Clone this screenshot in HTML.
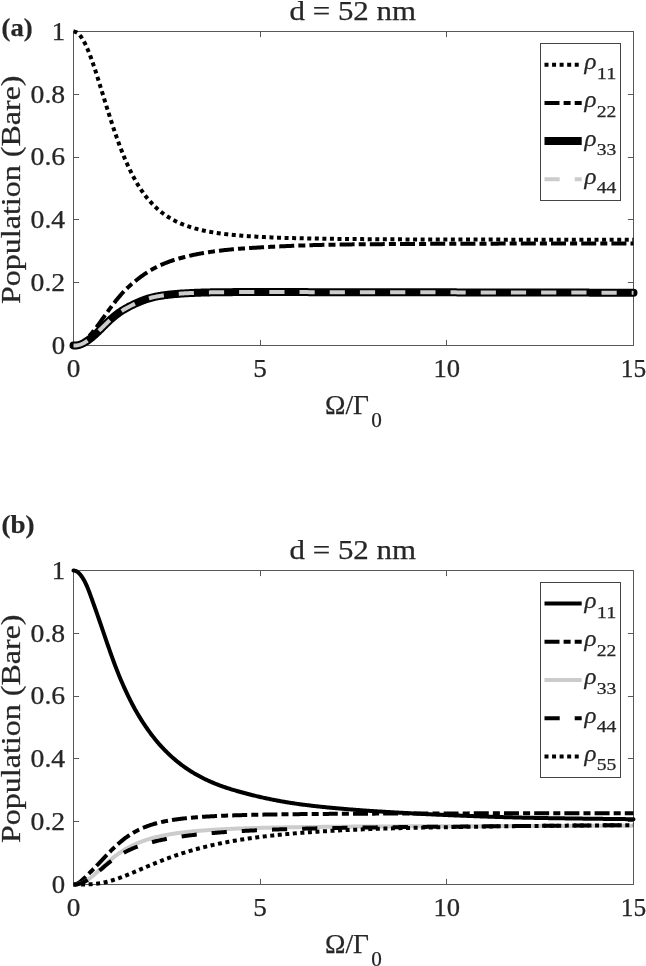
<!DOCTYPE html>
<html><head><meta charset="utf-8"><title>Population (Bare) vs Ω/Γ0</title>
<style>
html,body{margin:0;padding:0;background:#fff;}
svg{display:block;}
text{font-family:"Liberation Serif", serif;fill:#262626;stroke:#262626;stroke-width:0.25px;}
</style></head>
<body>
<svg width="646" height="966" viewBox="0 0 646 966">
<rect width="646" height="966" fill="#fff"/>
<rect x="73.5" y="31.5" width="560.0" height="314.0" fill="none" stroke="#585858" stroke-width="1"/>
<text x="73.50" y="377.20" font-size="24.2" text-anchor="middle" font-weight="normal" font-style="normal" textLength="13.60" lengthAdjust="spacingAndGlyphs" class="tk">0</text>
<path d="M260.5,345.5 v-5.6 M260.5,31.5 v5.6" stroke="#585858" stroke-width="1" fill="none"/>
<text x="260.17" y="377.20" font-size="24.2" text-anchor="middle" font-weight="normal" font-style="normal" textLength="13.60" lengthAdjust="spacingAndGlyphs" class="tk">5</text>
<path d="M446.5,345.5 v-5.6 M446.5,31.5 v5.6" stroke="#585858" stroke-width="1" fill="none"/>
<text x="446.83" y="377.20" font-size="24.2" text-anchor="middle" font-weight="normal" font-style="normal" textLength="26.60" lengthAdjust="spacingAndGlyphs" class="tk">10</text>
<text x="633.50" y="377.20" font-size="24.2" text-anchor="middle" font-weight="normal" font-style="normal" textLength="25.40" lengthAdjust="spacingAndGlyphs" class="tk">15</text>
<text x="65.20" y="353.70" font-size="24.2" text-anchor="end" font-weight="normal" font-style="normal" textLength="13.40" lengthAdjust="spacingAndGlyphs" class="tk">0</text>
<path d="M73.5,282.5 h5.6 M633.5,282.5 h-5.6" stroke="#585858" stroke-width="1" fill="none"/>
<text x="65.20" y="290.90" font-size="24.2" text-anchor="end" font-weight="normal" font-style="normal" textLength="34.60" lengthAdjust="spacingAndGlyphs" class="tk">0.2</text>
<path d="M73.5,219.5 h5.6 M633.5,219.5 h-5.6" stroke="#585858" stroke-width="1" fill="none"/>
<text x="65.20" y="228.10" font-size="24.2" text-anchor="end" font-weight="normal" font-style="normal" textLength="34.60" lengthAdjust="spacingAndGlyphs" class="tk">0.4</text>
<path d="M73.5,157.5 h5.6 M633.5,157.5 h-5.6" stroke="#585858" stroke-width="1" fill="none"/>
<text x="65.20" y="165.30" font-size="24.2" text-anchor="end" font-weight="normal" font-style="normal" textLength="34.60" lengthAdjust="spacingAndGlyphs" class="tk">0.6</text>
<path d="M73.5,94.5 h5.6 M633.5,94.5 h-5.6" stroke="#585858" stroke-width="1" fill="none"/>
<text x="65.20" y="102.50" font-size="24.2" text-anchor="end" font-weight="normal" font-style="normal" textLength="34.60" lengthAdjust="spacingAndGlyphs" class="tk">0.8</text>
<text x="65.20" y="39.70" font-size="24.2" text-anchor="end" font-weight="normal" font-style="normal" textLength="13.40" lengthAdjust="spacingAndGlyphs" class="tk">1</text>
<text x="352.80" y="19.70" font-size="27" text-anchor="middle" font-weight="normal" font-style="normal" textLength="126.50" lengthAdjust="spacingAndGlyphs">d = 52 nm</text>
<text x="1.60" y="35.50" font-size="26" text-anchor="start" font-weight="bold" font-style="normal" textLength="31.00" lengthAdjust="spacingAndGlyphs">(a)</text>
<text x="325.00" y="414.10" font-size="27.5" text-anchor="start" font-weight="normal" font-style="normal" textLength="44.00" lengthAdjust="spacingAndGlyphs">Ω/Γ</text>
<text x="371.20" y="427.10" font-size="20.5" text-anchor="start" font-weight="normal" font-style="normal" textLength="10.60" lengthAdjust="spacingAndGlyphs">0</text>
<g transform="translate(19.9,189.70) rotate(-90)"><text x="0.00" y="0.00" font-size="27" text-anchor="middle" font-weight="normal" font-style="normal" textLength="228.50" lengthAdjust="spacingAndGlyphs">Population (Bare)</text></g>
<path d="M73.50,31.50 L74.43,31.58 L75.37,31.83 L76.30,32.25 L77.23,32.82 L78.17,33.56 L79.10,34.46 L80.03,35.51 L80.97,36.72 L81.90,38.07 L82.83,39.57 L83.77,41.20 L84.70,42.97 L85.63,44.87 L86.57,46.88 L87.50,49.01 L88.43,51.25 L89.37,53.59 L90.30,56.02 L91.23,58.54 L92.17,61.15 L93.10,63.82 L94.03,66.56 L94.97,69.36 L95.90,72.22 L96.83,75.12 L97.77,78.05 L98.70,81.03 L99.63,84.02 L100.57,87.04 L101.50,90.07 L102.43,93.11 L103.37,96.15 L104.30,99.19 L105.23,102.23 L106.17,105.25 L107.10,108.25 L108.03,111.24 L108.97,114.21 L109.90,117.14 L110.83,120.05 L111.77,122.92 L112.70,125.76 L113.63,128.56 L114.57,131.32 L115.50,134.04 L116.43,136.71 L117.37,139.34 L118.30,141.92 L119.23,144.46 L120.17,146.94 L121.10,149.38 L122.03,151.76 L122.97,154.10 L123.90,156.39 L124.83,158.62 L125.77,160.80 L126.70,162.94 L127.63,165.02 L128.57,167.05 L129.50,169.03 L130.43,170.96 L131.37,172.85 L132.30,174.68 L133.23,176.47 L134.17,178.21 L135.10,179.91 L136.03,181.56 L136.97,183.16 L137.90,184.72 L138.83,186.24 L139.77,187.71 L140.70,189.15 L141.63,190.54 L142.57,191.90 L143.50,193.21 L144.43,194.49 L145.37,195.73 L146.30,196.94 L147.23,198.11 L148.17,199.24 L149.10,200.35 L150.03,201.42 L150.97,202.46 L151.90,203.47 L152.83,204.45 L153.77,205.40 L154.70,206.32 L155.63,207.22 L156.57,208.09 L157.50,208.93 L158.43,209.75 L159.37,210.55 L160.30,211.32 L161.23,212.06 L162.17,212.79 L163.10,213.50 L164.03,214.18 L164.97,214.84 L165.90,215.49 L166.83,216.11 L167.77,216.72 L168.70,217.31 L169.63,217.88 L170.57,218.44 L171.50,218.97 L172.43,219.50 L173.37,220.01 L174.30,220.50 L175.23,220.98 L176.17,221.44 L177.10,221.90 L178.03,222.33 L178.97,222.76 L179.90,223.17 L180.83,223.58 L181.77,223.97 L182.70,224.35 L183.63,224.72 L184.57,225.07 L185.50,225.42 L186.43,225.76 L187.37,226.09 L188.30,226.41 L189.23,226.72 L190.17,227.02 L191.10,227.32 L192.03,227.60 L192.97,227.88 L193.90,228.15 L194.83,228.42 L195.77,228.67 L196.70,228.92 L197.63,229.16 L198.57,229.40 L199.50,229.63 L200.43,229.85 L201.37,230.07 L202.30,230.28 L203.23,230.49 L204.17,230.69 L205.10,230.89 L206.03,231.08 L206.97,231.26 L207.90,231.44 L208.83,231.62 L209.77,231.79 L210.70,231.96 L211.63,232.12 L212.57,232.28 L213.50,232.43 L214.43,232.58 L215.37,232.73 L216.30,232.87 L217.23,233.01 L218.17,233.15 L219.10,233.28 L220.03,233.41 L220.97,233.54 L221.90,233.66 L222.83,233.78 L223.77,233.90 L224.70,234.02 L225.63,234.13 L226.57,234.24 L227.50,234.34 L228.43,234.45 L229.37,234.55 L230.30,234.65 L231.23,234.75 L232.17,234.84 L233.10,234.93 L234.03,235.02 L234.97,235.11 L235.90,235.20 L236.83,235.28 L237.77,235.36 L238.70,235.44 L239.63,235.52 L240.57,235.60 L241.50,235.67 L242.43,235.75 L243.37,235.82 L244.30,235.89 L245.23,235.96 L246.17,236.03 L247.10,236.09 L248.03,236.16 L248.97,236.22 L249.90,236.28 L250.83,236.34 L251.77,236.40 L252.70,236.46 L253.63,236.51 L254.57,236.57 L255.50,236.62 L256.43,236.68 L257.37,236.73 L258.30,236.78 L259.23,236.83 L260.17,236.88 L261.10,236.92 L262.03,236.97 L262.97,237.02 L263.90,237.06 L264.83,237.10 L265.77,237.15 L266.70,237.19 L267.63,237.23 L268.57,237.27 L269.50,237.31 L270.43,237.35 L271.37,237.39 L272.30,237.42 L273.23,237.46 L274.17,237.50 L275.10,237.53 L276.03,237.57 L276.97,237.60 L277.90,237.63 L278.83,237.67 L279.77,237.70 L280.70,237.73 L281.63,237.76 L282.57,237.79 L283.50,237.82 L284.43,237.85 L285.37,237.88 L286.30,237.91 L287.23,237.93 L288.17,237.96 L289.10,237.99 L290.03,238.01 L290.97,238.04 L291.90,238.06 L292.83,238.09 L293.77,238.11 L294.70,238.13 L295.63,238.16 L296.57,238.18 L297.50,238.20 L298.43,238.23 L299.37,238.25 L300.30,238.27 L301.23,238.29 L302.17,238.31 L303.10,238.33 L304.03,238.35 L304.97,238.37 L305.90,238.39 L306.83,238.41 L307.77,238.43 L308.70,238.44 L309.63,238.46 L310.57,238.48 L311.50,238.50 L312.43,238.51 L313.37,238.53 L314.30,238.55 L315.23,238.56 L316.17,238.58 L317.10,238.59 L318.03,238.61 L318.97,238.62 L319.90,238.64 L320.83,238.65 L321.77,238.67 L322.70,238.68 L323.63,238.70 L324.57,238.71 L325.50,238.72 L326.43,238.74 L327.37,238.75 L328.30,238.76 L329.23,238.78 L330.17,238.79 L331.10,238.80 L332.03,238.81 L332.97,238.82 L333.90,238.84 L334.83,238.85 L335.77,238.86 L336.70,238.87 L337.63,238.88 L338.57,238.89 L339.50,238.90 L340.43,238.91 L341.37,238.92 L342.30,238.93 L343.23,238.94 L344.17,238.95 L345.10,238.96 L346.03,238.97 L346.97,238.98 L347.90,238.99 L348.83,239.00 L349.77,239.01 L350.70,239.02 L351.63,239.03 L352.57,239.04 L353.50,239.04 L354.43,239.05 L355.37,239.06 L356.30,239.07 L357.23,239.08 L358.17,239.09 L359.10,239.09 L360.03,239.10 L360.97,239.11 L361.90,239.12 L362.83,239.12 L363.77,239.13 L364.70,239.14 L365.63,239.15 L366.57,239.15 L367.50,239.16 L368.43,239.17 L369.37,239.17 L370.30,239.18 L371.23,239.19 L372.17,239.19 L373.10,239.20 L374.03,239.20 L374.97,239.21 L375.90,239.22 L376.83,239.22 L377.77,239.23 L378.70,239.24 L379.63,239.24 L380.57,239.25 L381.50,239.25 L382.43,239.26 L383.37,239.26 L384.30,239.27 L385.23,239.27 L386.17,239.28 L387.10,239.28 L388.03,239.29 L388.97,239.29 L389.90,239.30 L390.83,239.30 L391.77,239.31 L392.70,239.31 L393.63,239.32 L394.57,239.32 L395.50,239.33 L396.43,239.33 L397.37,239.34 L398.30,239.34 L399.23,239.35 L400.17,239.35 L401.10,239.36 L402.03,239.36 L402.97,239.36 L403.90,239.37 L404.83,239.37 L405.77,239.38 L406.70,239.38 L407.63,239.38 L408.57,239.39 L409.50,239.39 L410.43,239.40 L411.37,239.40 L412.30,239.40 L413.23,239.41 L414.17,239.41 L415.10,239.41 L416.03,239.42 L416.97,239.42 L417.90,239.43 L418.83,239.43 L419.77,239.43 L420.70,239.44 L421.63,239.44 L422.57,239.44 L423.50,239.45 L424.43,239.45 L425.37,239.45 L426.30,239.45 L427.23,239.46 L428.17,239.46 L429.10,239.46 L430.03,239.47 L430.97,239.47 L431.90,239.47 L432.83,239.48 L433.77,239.48 L434.70,239.48 L435.63,239.48 L436.57,239.49 L437.50,239.49 L438.43,239.49 L439.37,239.50 L440.30,239.50 L441.23,239.50 L442.17,239.50 L443.10,239.51 L444.03,239.51 L444.97,239.51 L445.90,239.51 L446.83,239.52 L447.77,239.52 L448.70,239.52 L449.63,239.52 L450.57,239.53 L451.50,239.53 L452.43,239.53 L453.37,239.53 L454.30,239.53 L455.23,239.54 L456.17,239.54 L457.10,239.54 L458.03,239.54 L458.97,239.55 L459.90,239.55 L460.83,239.55 L461.77,239.55 L462.70,239.55 L463.63,239.56 L464.57,239.56 L465.50,239.56 L466.43,239.56 L467.37,239.56 L468.30,239.57 L469.23,239.57 L470.17,239.57 L471.10,239.57 L472.03,239.57 L472.97,239.58 L473.90,239.58 L474.83,239.58 L475.77,239.58 L476.70,239.58 L477.63,239.58 L478.57,239.59 L479.50,239.59 L480.43,239.59 L481.37,239.59 L482.30,239.59 L483.23,239.59 L484.17,239.60 L485.10,239.60 L486.03,239.60 L486.97,239.60 L487.90,239.60 L488.83,239.60 L489.77,239.61 L490.70,239.61 L491.63,239.61 L492.57,239.61 L493.50,239.61 L494.43,239.61 L495.37,239.61 L496.30,239.62 L497.23,239.62 L498.17,239.62 L499.10,239.62 L500.03,239.62 L500.97,239.62 L501.90,239.62 L502.83,239.63 L503.77,239.63 L504.70,239.63 L505.63,239.63 L506.57,239.63 L507.50,239.63 L508.43,239.63 L509.37,239.64 L510.30,239.64 L511.23,239.64 L512.17,239.64 L513.10,239.64 L514.03,239.64 L514.97,239.64 L515.90,239.64 L516.83,239.65 L517.77,239.65 L518.70,239.65 L519.63,239.65 L520.57,239.65 L521.50,239.65 L522.43,239.65 L523.37,239.65 L524.30,239.65 L525.23,239.66 L526.17,239.66 L527.10,239.66 L528.03,239.66 L528.97,239.66 L529.90,239.66 L530.83,239.66 L531.77,239.66 L532.70,239.66 L533.63,239.67 L534.57,239.67 L535.50,239.67 L536.43,239.67 L537.37,239.67 L538.30,239.67 L539.23,239.67 L540.17,239.67 L541.10,239.67 L542.03,239.67 L542.97,239.67 L543.90,239.68 L544.83,239.68 L545.77,239.68 L546.70,239.68 L547.63,239.68 L548.57,239.68 L549.50,239.68 L550.43,239.68 L551.37,239.68 L552.30,239.68 L553.23,239.68 L554.17,239.69 L555.10,239.69 L556.03,239.69 L556.97,239.69 L557.90,239.69 L558.83,239.69 L559.77,239.69 L560.70,239.69 L561.63,239.69 L562.57,239.69 L563.50,239.69 L564.43,239.69 L565.37,239.70 L566.30,239.70 L567.23,239.70 L568.17,239.70 L569.10,239.70 L570.03,239.70 L570.97,239.70 L571.90,239.70 L572.83,239.70 L573.77,239.70 L574.70,239.70 L575.63,239.70 L576.57,239.70 L577.50,239.70 L578.43,239.71 L579.37,239.71 L580.30,239.71 L581.23,239.71 L582.17,239.71 L583.10,239.71 L584.03,239.71 L584.97,239.71 L585.90,239.71 L586.83,239.71 L587.77,239.71 L588.70,239.71 L589.63,239.71 L590.57,239.71 L591.50,239.71 L592.43,239.72 L593.37,239.72 L594.30,239.72 L595.23,239.72 L596.17,239.72 L597.10,239.72 L598.03,239.72 L598.97,239.72 L599.90,239.72 L600.83,239.72 L601.77,239.72 L602.70,239.72 L603.63,239.72 L604.57,239.72 L605.50,239.72 L606.43,239.72 L607.37,239.72 L608.30,239.73 L609.23,239.73 L610.17,239.73 L611.10,239.73 L612.03,239.73 L612.97,239.73 L613.90,239.73 L614.83,239.73 L615.77,239.73 L616.70,239.73 L617.63,239.73 L618.57,239.73 L619.50,239.73 L620.43,239.73 L621.37,239.73 L622.30,239.73 L623.23,239.73 L624.17,239.73 L625.10,239.73 L626.03,239.74 L626.97,239.74 L627.90,239.74 L628.83,239.74 L629.77,239.74 L630.70,239.74 L631.63,239.74 L632.57,239.74 L633.50,239.74" fill="none" stroke="#000" stroke-width="4.0" stroke-linejoin="round" stroke-linecap="butt" stroke-dasharray="4 3.56"/>
<path d="M73.50,345.50 L74.43,345.46 L75.37,345.36 L76.30,345.18 L77.23,344.92 L78.17,344.60 L79.10,344.21 L80.03,343.75 L80.97,343.23 L81.90,342.64 L82.83,341.99 L83.77,341.28 L84.70,340.52 L85.63,339.70 L86.57,338.83 L87.50,337.91 L88.43,336.94 L89.37,335.93 L90.30,334.88 L91.23,333.79 L92.17,332.67 L93.10,331.52 L94.03,330.34 L94.97,329.14 L95.90,327.92 L96.83,326.67 L97.77,325.41 L98.70,324.14 L99.63,322.85 L100.57,321.56 L101.50,320.26 L102.43,318.95 L103.37,317.65 L104.30,316.34 L105.23,315.04 L106.17,313.74 L107.10,312.44 L108.03,311.15 L108.97,309.87 L109.90,308.60 L110.83,307.35 L111.77,306.10 L112.70,304.87 L113.63,303.65 L114.57,302.44 L115.50,301.25 L116.43,300.08 L117.37,298.92 L118.30,297.78 L119.23,296.66 L120.17,295.57 L121.10,294.51 L122.03,293.47 L122.97,292.46 L123.90,291.47 L124.83,290.51 L125.77,289.57 L126.70,288.65 L127.63,287.76 L128.57,286.88 L129.50,286.02 L130.43,285.18 L131.37,284.36 L132.30,283.56 L133.23,282.77 L134.17,281.99 L135.10,281.23 L136.03,280.48 L136.97,279.73 L137.90,279.00 L138.83,278.28 L139.77,277.57 L140.70,276.87 L141.63,276.18 L142.57,275.51 L143.50,274.86 L144.43,274.22 L145.37,273.59 L146.30,272.98 L147.23,272.38 L148.17,271.79 L149.10,271.22 L150.03,270.66 L150.97,270.11 L151.90,269.58 L152.83,269.06 L153.77,268.55 L154.70,268.05 L155.63,267.56 L156.57,267.09 L157.50,266.62 L158.43,266.17 L159.37,265.72 L160.30,265.29 L161.23,264.87 L162.17,264.45 L163.10,264.05 L164.03,263.66 L164.97,263.27 L165.90,262.90 L166.83,262.53 L167.77,262.17 L168.70,261.83 L169.63,261.49 L170.57,261.16 L171.50,260.83 L172.43,260.52 L173.37,260.21 L174.30,259.91 L175.23,259.62 L176.17,259.33 L177.10,259.05 L178.03,258.78 L178.97,258.51 L179.90,258.24 L180.83,257.99 L181.77,257.73 L182.70,257.48 L183.63,257.24 L184.57,257.00 L185.50,256.76 L186.43,256.53 L187.37,256.30 L188.30,256.07 L189.23,255.86 L190.17,255.64 L191.10,255.43 L192.03,255.22 L192.97,255.02 L193.90,254.83 L194.83,254.63 L195.77,254.44 L196.70,254.26 L197.63,254.08 L198.57,253.90 L199.50,253.72 L200.43,253.55 L201.37,253.38 L202.30,253.22 L203.23,253.06 L204.17,252.90 L205.10,252.75 L206.03,252.59 L206.97,252.44 L207.90,252.30 L208.83,252.16 L209.77,252.02 L210.70,251.88 L211.63,251.74 L212.57,251.61 L213.50,251.48 L214.43,251.35 L215.37,251.23 L216.30,251.11 L217.23,250.99 L218.17,250.87 L219.10,250.75 L220.03,250.64 L220.97,250.53 L221.90,250.42 L222.83,250.31 L223.77,250.21 L224.70,250.10 L225.63,250.00 L226.57,249.90 L227.50,249.81 L228.43,249.71 L229.37,249.62 L230.30,249.53 L231.23,249.44 L232.17,249.36 L233.10,249.27 L234.03,249.19 L234.97,249.11 L235.90,249.03 L236.83,248.96 L237.77,248.88 L238.70,248.81 L239.63,248.74 L240.57,248.67 L241.50,248.60 L242.43,248.53 L243.37,248.47 L244.30,248.40 L245.23,248.34 L246.17,248.27 L247.10,248.21 L248.03,248.15 L248.97,248.09 L249.90,248.03 L250.83,247.97 L251.77,247.91 L252.70,247.85 L253.63,247.80 L254.57,247.74 L255.50,247.68 L256.43,247.63 L257.37,247.57 L258.30,247.51 L259.23,247.46 L260.17,247.40 L261.10,247.35 L262.03,247.29 L262.97,247.24 L263.90,247.19 L264.83,247.14 L265.77,247.09 L266.70,247.03 L267.63,246.98 L268.57,246.93 L269.50,246.88 L270.43,246.84 L271.37,246.79 L272.30,246.74 L273.23,246.69 L274.17,246.65 L275.10,246.60 L276.03,246.56 L276.97,246.51 L277.90,246.47 L278.83,246.42 L279.77,246.38 L280.70,246.34 L281.63,246.30 L282.57,246.25 L283.50,246.21 L284.43,246.17 L285.37,246.13 L286.30,246.09 L287.23,246.06 L288.17,246.02 L289.10,245.98 L290.03,245.94 L290.97,245.91 L291.90,245.87 L292.83,245.83 L293.77,245.80 L294.70,245.76 L295.63,245.72 L296.57,245.69 L297.50,245.65 L298.43,245.62 L299.37,245.58 L300.30,245.55 L301.23,245.52 L302.17,245.48 L303.10,245.45 L304.03,245.42 L304.97,245.38 L305.90,245.35 L306.83,245.32 L307.77,245.29 L308.70,245.26 L309.63,245.23 L310.57,245.20 L311.50,245.17 L312.43,245.14 L313.37,245.12 L314.30,245.09 L315.23,245.06 L316.17,245.04 L317.10,245.01 L318.03,244.99 L318.97,244.96 L319.90,244.94 L320.83,244.91 L321.77,244.89 L322.70,244.87 L323.63,244.85 L324.57,244.83 L325.50,244.81 L326.43,244.79 L327.37,244.77 L328.30,244.75 L329.23,244.73 L330.17,244.71 L331.10,244.69 L332.03,244.68 L332.97,244.66 L333.90,244.64 L334.83,244.63 L335.77,244.61 L336.70,244.59 L337.63,244.58 L338.57,244.56 L339.50,244.55 L340.43,244.54 L341.37,244.52 L342.30,244.51 L343.23,244.49 L344.17,244.48 L345.10,244.47 L346.03,244.46 L346.97,244.44 L347.90,244.43 L348.83,244.42 L349.77,244.41 L350.70,244.40 L351.63,244.38 L352.57,244.37 L353.50,244.36 L354.43,244.35 L355.37,244.34 L356.30,244.33 L357.23,244.32 L358.17,244.31 L359.10,244.30 L360.03,244.30 L360.97,244.29 L361.90,244.28 L362.83,244.27 L363.77,244.26 L364.70,244.25 L365.63,244.25 L366.57,244.24 L367.50,244.23 L368.43,244.22 L369.37,244.22 L370.30,244.21 L371.23,244.20 L372.17,244.19 L373.10,244.19 L374.03,244.18 L374.97,244.17 L375.90,244.17 L376.83,244.16 L377.77,244.16 L378.70,244.15 L379.63,244.14 L380.57,244.14 L381.50,244.13 L382.43,244.13 L383.37,244.12 L384.30,244.12 L385.23,244.11 L386.17,244.11 L387.10,244.10 L388.03,244.10 L388.97,244.09 L389.90,244.09 L390.83,244.08 L391.77,244.08 L392.70,244.07 L393.63,244.07 L394.57,244.06 L395.50,244.06 L396.43,244.05 L397.37,244.05 L398.30,244.04 L399.23,244.04 L400.17,244.03 L401.10,244.03 L402.03,244.02 L402.97,244.02 L403.90,244.01 L404.83,244.01 L405.77,244.01 L406.70,244.00 L407.63,244.00 L408.57,243.99 L409.50,243.99 L410.43,243.98 L411.37,243.98 L412.30,243.97 L413.23,243.97 L414.17,243.96 L415.10,243.96 L416.03,243.95 L416.97,243.95 L417.90,243.94 L418.83,243.94 L419.77,243.93 L420.70,243.93 L421.63,243.92 L422.57,243.91 L423.50,243.91 L424.43,243.90 L425.37,243.90 L426.30,243.89 L427.23,243.89 L428.17,243.88 L429.10,243.88 L430.03,243.87 L430.97,243.87 L431.90,243.86 L432.83,243.86 L433.77,243.86 L434.70,243.85 L435.63,243.85 L436.57,243.84 L437.50,243.84 L438.43,243.83 L439.37,243.83 L440.30,243.82 L441.23,243.82 L442.17,243.82 L443.10,243.81 L444.03,243.81 L444.97,243.80 L445.90,243.80 L446.83,243.80 L447.77,243.79 L448.70,243.79 L449.63,243.78 L450.57,243.78 L451.50,243.78 L452.43,243.77 L453.37,243.77 L454.30,243.76 L455.23,243.76 L456.17,243.76 L457.10,243.75 L458.03,243.75 L458.97,243.75 L459.90,243.74 L460.83,243.74 L461.77,243.74 L462.70,243.73 L463.63,243.73 L464.57,243.73 L465.50,243.72 L466.43,243.72 L467.37,243.72 L468.30,243.71 L469.23,243.71 L470.17,243.71 L471.10,243.70 L472.03,243.70 L472.97,243.70 L473.90,243.69 L474.83,243.69 L475.77,243.69 L476.70,243.69 L477.63,243.68 L478.57,243.68 L479.50,243.68 L480.43,243.67 L481.37,243.67 L482.30,243.67 L483.23,243.67 L484.17,243.66 L485.10,243.66 L486.03,243.66 L486.97,243.66 L487.90,243.65 L488.83,243.65 L489.77,243.65 L490.70,243.64 L491.63,243.64 L492.57,243.64 L493.50,243.64 L494.43,243.63 L495.37,243.63 L496.30,243.63 L497.23,243.63 L498.17,243.63 L499.10,243.62 L500.03,243.62 L500.97,243.62 L501.90,243.62 L502.83,243.61 L503.77,243.61 L504.70,243.61 L505.63,243.61 L506.57,243.60 L507.50,243.60 L508.43,243.60 L509.37,243.60 L510.30,243.60 L511.23,243.59 L512.17,243.59 L513.10,243.59 L514.03,243.59 L514.97,243.59 L515.90,243.58 L516.83,243.58 L517.77,243.58 L518.70,243.58 L519.63,243.58 L520.57,243.57 L521.50,243.57 L522.43,243.57 L523.37,243.57 L524.30,243.57 L525.23,243.56 L526.17,243.56 L527.10,243.56 L528.03,243.56 L528.97,243.56 L529.90,243.55 L530.83,243.55 L531.77,243.55 L532.70,243.55 L533.63,243.55 L534.57,243.55 L535.50,243.54 L536.43,243.54 L537.37,243.54 L538.30,243.54 L539.23,243.54 L540.17,243.54 L541.10,243.53 L542.03,243.53 L542.97,243.53 L543.90,243.53 L544.83,243.53 L545.77,243.53 L546.70,243.52 L547.63,243.52 L548.57,243.52 L549.50,243.52 L550.43,243.52 L551.37,243.52 L552.30,243.51 L553.23,243.51 L554.17,243.51 L555.10,243.51 L556.03,243.51 L556.97,243.51 L557.90,243.50 L558.83,243.50 L559.77,243.50 L560.70,243.50 L561.63,243.50 L562.57,243.50 L563.50,243.49 L564.43,243.49 L565.37,243.49 L566.30,243.49 L567.23,243.49 L568.17,243.49 L569.10,243.49 L570.03,243.48 L570.97,243.48 L571.90,243.48 L572.83,243.48 L573.77,243.48 L574.70,243.48 L575.63,243.47 L576.57,243.47 L577.50,243.47 L578.43,243.47 L579.37,243.47 L580.30,243.47 L581.23,243.47 L582.17,243.46 L583.10,243.46 L584.03,243.46 L584.97,243.46 L585.90,243.46 L586.83,243.46 L587.77,243.46 L588.70,243.45 L589.63,243.45 L590.57,243.45 L591.50,243.45 L592.43,243.45 L593.37,243.45 L594.30,243.45 L595.23,243.44 L596.17,243.44 L597.10,243.44 L598.03,243.44 L598.97,243.44 L599.90,243.44 L600.83,243.43 L601.77,243.43 L602.70,243.43 L603.63,243.43 L604.57,243.43 L605.50,243.43 L606.43,243.43 L607.37,243.42 L608.30,243.42 L609.23,243.42 L610.17,243.42 L611.10,243.42 L612.03,243.42 L612.97,243.42 L613.90,243.41 L614.83,243.41 L615.77,243.41 L616.70,243.41 L617.63,243.41 L618.57,243.41 L619.50,243.40 L620.43,243.40 L621.37,243.40 L622.30,243.40 L623.23,243.40 L624.17,243.40 L625.10,243.40 L626.03,243.39 L626.97,243.39 L627.90,243.39 L628.83,243.39 L629.77,243.39 L630.70,243.39 L631.63,243.38 L632.57,243.38 L633.50,243.38" fill="none" stroke="#000" stroke-width="4.0" stroke-linejoin="round" stroke-linecap="butt" stroke-dasharray="15 4.1 7 4.1"/>
<path d="M73.50,345.50 L74.43,345.53 L75.37,345.51 L76.30,345.44 L77.23,345.31 L78.17,345.12 L79.10,344.89 L80.03,344.60 L80.97,344.26 L81.90,343.88 L82.83,343.45 L83.77,342.97 L84.70,342.45 L85.63,341.88 L86.57,341.28 L87.50,340.64 L88.43,339.98 L89.37,339.29 L90.30,338.58 L91.23,337.85 L92.17,337.09 L93.10,336.30 L94.03,335.50 L94.97,334.67 L95.90,333.81 L96.83,332.93 L97.77,332.03 L98.70,331.12 L99.63,330.19 L100.57,329.27 L101.50,328.33 L102.43,327.40 L103.37,326.47 L104.30,325.55 L105.23,324.63 L106.17,323.72 L107.10,322.81 L108.03,321.92 L108.97,321.05 L109.90,320.18 L110.83,319.34 L111.77,318.52 L112.70,317.71 L113.63,316.92 L114.57,316.15 L115.50,315.40 L116.43,314.67 L117.37,313.96 L118.30,313.26 L119.23,312.59 L120.17,311.94 L121.10,311.31 L122.03,310.69 L122.97,310.10 L123.90,309.52 L124.83,308.96 L125.77,308.42 L126.70,307.90 L127.63,307.39 L128.57,306.90 L129.50,306.43 L130.43,305.96 L131.37,305.50 L132.30,305.05 L133.23,304.61 L134.17,304.17 L135.10,303.74 L136.03,303.31 L136.97,302.90 L137.90,302.49 L138.83,302.09 L139.77,301.70 L140.70,301.31 L141.63,300.94 L142.57,300.58 L143.50,300.22 L144.43,299.88 L145.37,299.55 L146.30,299.22 L147.23,298.91 L148.17,298.61 L149.10,298.33 L150.03,298.05 L150.97,297.79 L151.90,297.54 L152.83,297.31 L153.77,297.08 L154.70,296.88 L155.63,296.69 L156.57,296.51 L157.50,296.33 L158.43,296.17 L159.37,296.00 L160.30,295.85 L161.23,295.70 L162.17,295.56 L163.10,295.42 L164.03,295.29 L164.97,295.16 L165.90,295.04 L166.83,294.92 L167.77,294.81 L168.70,294.70 L169.63,294.60 L170.57,294.49 L171.50,294.40 L172.43,294.30 L173.37,294.22 L174.30,294.13 L175.23,294.05 L176.17,293.97 L177.10,293.89 L178.03,293.82 L178.97,293.75 L179.90,293.68 L180.83,293.61 L181.77,293.55 L182.70,293.49 L183.63,293.43 L184.57,293.37 L185.50,293.32 L186.43,293.27 L187.37,293.22 L188.30,293.17 L189.23,293.12 L190.17,293.07 L191.10,293.03 L192.03,292.99 L192.97,292.94 L193.90,292.90 L194.83,292.86 L195.77,292.82 L196.70,292.79 L197.63,292.75 L198.57,292.72 L199.50,292.68 L200.43,292.65 L201.37,292.62 L202.30,292.59 L203.23,292.56 L204.17,292.53 L205.10,292.50 L206.03,292.47 L206.97,292.45 L207.90,292.42 L208.83,292.40 L209.77,292.38 L210.70,292.36 L211.63,292.34 L212.57,292.32 L213.50,292.30 L214.43,292.28 L215.37,292.27 L216.30,292.25 L217.23,292.24 L218.17,292.23 L219.10,292.21 L220.03,292.20 L220.97,292.19 L221.90,292.19 L222.83,292.18 L223.77,292.17 L224.70,292.17 L225.63,292.16 L226.57,292.15 L227.50,292.15 L228.43,292.14 L229.37,292.14 L230.30,292.13 L231.23,292.13 L232.17,292.13 L233.10,292.12 L234.03,292.12 L234.97,292.11 L235.90,292.11 L236.83,292.11 L237.77,292.10 L238.70,292.10 L239.63,292.10 L240.57,292.10 L241.50,292.09 L242.43,292.09 L243.37,292.09 L244.30,292.09 L245.23,292.09 L246.17,292.09 L247.10,292.08 L248.03,292.08 L248.97,292.08 L249.90,292.08 L250.83,292.08 L251.77,292.08 L252.70,292.08 L253.63,292.08 L254.57,292.08 L255.50,292.08 L256.43,292.08 L257.37,292.07 L258.30,292.07 L259.23,292.07 L260.17,292.07 L261.10,292.07 L262.03,292.07 L262.97,292.07 L263.90,292.07 L264.83,292.07 L265.77,292.07 L266.70,292.08 L267.63,292.08 L268.57,292.08 L269.50,292.08 L270.43,292.08 L271.37,292.08 L272.30,292.08 L273.23,292.08 L274.17,292.08 L275.10,292.08 L276.03,292.08 L276.97,292.08 L277.90,292.08 L278.83,292.08 L279.77,292.08 L280.70,292.09 L281.63,292.09 L282.57,292.09 L283.50,292.09 L284.43,292.09 L285.37,292.09 L286.30,292.09 L287.23,292.09 L288.17,292.09 L289.10,292.10 L290.03,292.10 L290.97,292.10 L291.90,292.10 L292.83,292.10 L293.77,292.10 L294.70,292.10 L295.63,292.11 L296.57,292.11 L297.50,292.11 L298.43,292.11 L299.37,292.11 L300.30,292.11 L301.23,292.11 L302.17,292.12 L303.10,292.12 L304.03,292.12 L304.97,292.12 L305.90,292.12 L306.83,292.12 L307.77,292.12 L308.70,292.13 L309.63,292.13 L310.57,292.13 L311.50,292.13 L312.43,292.13 L313.37,292.13 L314.30,292.14 L315.23,292.14 L316.17,292.14 L317.10,292.14 L318.03,292.14 L318.97,292.14 L319.90,292.15 L320.83,292.15 L321.77,292.15 L322.70,292.15 L323.63,292.15 L324.57,292.15 L325.50,292.15 L326.43,292.16 L327.37,292.16 L328.30,292.16 L329.23,292.16 L330.17,292.16 L331.10,292.16 L332.03,292.17 L332.97,292.17 L333.90,292.17 L334.83,292.17 L335.77,292.17 L336.70,292.17 L337.63,292.18 L338.57,292.18 L339.50,292.18 L340.43,292.18 L341.37,292.18 L342.30,292.18 L343.23,292.19 L344.17,292.19 L345.10,292.19 L346.03,292.19 L346.97,292.19 L347.90,292.19 L348.83,292.20 L349.77,292.20 L350.70,292.20 L351.63,292.20 L352.57,292.20 L353.50,292.20 L354.43,292.21 L355.37,292.21 L356.30,292.21 L357.23,292.21 L358.17,292.21 L359.10,292.21 L360.03,292.22 L360.97,292.22 L361.90,292.22 L362.83,292.22 L363.77,292.22 L364.70,292.22 L365.63,292.23 L366.57,292.23 L367.50,292.23 L368.43,292.23 L369.37,292.23 L370.30,292.23 L371.23,292.24 L372.17,292.24 L373.10,292.24 L374.03,292.24 L374.97,292.24 L375.90,292.24 L376.83,292.25 L377.77,292.25 L378.70,292.25 L379.63,292.25 L380.57,292.25 L381.50,292.25 L382.43,292.26 L383.37,292.26 L384.30,292.26 L385.23,292.26 L386.17,292.26 L387.10,292.26 L388.03,292.26 L388.97,292.27 L389.90,292.27 L390.83,292.27 L391.77,292.27 L392.70,292.27 L393.63,292.27 L394.57,292.28 L395.50,292.28 L396.43,292.28 L397.37,292.28 L398.30,292.28 L399.23,292.28 L400.17,292.28 L401.10,292.29 L402.03,292.29 L402.97,292.29 L403.90,292.29 L404.83,292.29 L405.77,292.29 L406.70,292.29 L407.63,292.30 L408.57,292.30 L409.50,292.30 L410.43,292.30 L411.37,292.30 L412.30,292.30 L413.23,292.30 L414.17,292.31 L415.10,292.31 L416.03,292.31 L416.97,292.31 L417.90,292.31 L418.83,292.31 L419.77,292.32 L420.70,292.32 L421.63,292.32 L422.57,292.32 L423.50,292.32 L424.43,292.32 L425.37,292.32 L426.30,292.33 L427.23,292.33 L428.17,292.33 L429.10,292.33 L430.03,292.33 L430.97,292.33 L431.90,292.33 L432.83,292.34 L433.77,292.34 L434.70,292.34 L435.63,292.34 L436.57,292.34 L437.50,292.34 L438.43,292.35 L439.37,292.35 L440.30,292.35 L441.23,292.35 L442.17,292.35 L443.10,292.35 L444.03,292.35 L444.97,292.36 L445.90,292.36 L446.83,292.36 L447.77,292.36 L448.70,292.36 L449.63,292.36 L450.57,292.37 L451.50,292.37 L452.43,292.37 L453.37,292.37 L454.30,292.37 L455.23,292.37 L456.17,292.37 L457.10,292.38 L458.03,292.38 L458.97,292.38 L459.90,292.38 L460.83,292.38 L461.77,292.38 L462.70,292.39 L463.63,292.39 L464.57,292.39 L465.50,292.39 L466.43,292.39 L467.37,292.39 L468.30,292.40 L469.23,292.40 L470.17,292.40 L471.10,292.40 L472.03,292.40 L472.97,292.40 L473.90,292.41 L474.83,292.41 L475.77,292.41 L476.70,292.41 L477.63,292.41 L478.57,292.41 L479.50,292.42 L480.43,292.42 L481.37,292.42 L482.30,292.42 L483.23,292.42 L484.17,292.42 L485.10,292.43 L486.03,292.43 L486.97,292.43 L487.90,292.43 L488.83,292.43 L489.77,292.43 L490.70,292.44 L491.63,292.44 L492.57,292.44 L493.50,292.44 L494.43,292.44 L495.37,292.44 L496.30,292.45 L497.23,292.45 L498.17,292.45 L499.10,292.45 L500.03,292.45 L500.97,292.45 L501.90,292.46 L502.83,292.46 L503.77,292.46 L504.70,292.46 L505.63,292.46 L506.57,292.46 L507.50,292.47 L508.43,292.47 L509.37,292.47 L510.30,292.47 L511.23,292.47 L512.17,292.47 L513.10,292.48 L514.03,292.48 L514.97,292.48 L515.90,292.48 L516.83,292.48 L517.77,292.48 L518.70,292.49 L519.63,292.49 L520.57,292.49 L521.50,292.49 L522.43,292.49 L523.37,292.50 L524.30,292.50 L525.23,292.50 L526.17,292.50 L527.10,292.50 L528.03,292.50 L528.97,292.51 L529.90,292.51 L530.83,292.51 L531.77,292.51 L532.70,292.51 L533.63,292.51 L534.57,292.52 L535.50,292.52 L536.43,292.52 L537.37,292.52 L538.30,292.52 L539.23,292.53 L540.17,292.53 L541.10,292.53 L542.03,292.53 L542.97,292.53 L543.90,292.53 L544.83,292.54 L545.77,292.54 L546.70,292.54 L547.63,292.54 L548.57,292.54 L549.50,292.55 L550.43,292.55 L551.37,292.55 L552.30,292.55 L553.23,292.55 L554.17,292.55 L555.10,292.56 L556.03,292.56 L556.97,292.56 L557.90,292.56 L558.83,292.56 L559.77,292.57 L560.70,292.57 L561.63,292.57 L562.57,292.57 L563.50,292.57 L564.43,292.57 L565.37,292.58 L566.30,292.58 L567.23,292.58 L568.17,292.58 L569.10,292.58 L570.03,292.59 L570.97,292.59 L571.90,292.59 L572.83,292.59 L573.77,292.59 L574.70,292.60 L575.63,292.60 L576.57,292.60 L577.50,292.60 L578.43,292.60 L579.37,292.60 L580.30,292.61 L581.23,292.61 L582.17,292.61 L583.10,292.61 L584.03,292.61 L584.97,292.62 L585.90,292.62 L586.83,292.62 L587.77,292.62 L588.70,292.62 L589.63,292.63 L590.57,292.63 L591.50,292.63 L592.43,292.63 L593.37,292.63 L594.30,292.64 L595.23,292.64 L596.17,292.64 L597.10,292.64 L598.03,292.64 L598.97,292.64 L599.90,292.65 L600.83,292.65 L601.77,292.65 L602.70,292.65 L603.63,292.65 L604.57,292.66 L605.50,292.66 L606.43,292.66 L607.37,292.66 L608.30,292.66 L609.23,292.67 L610.17,292.67 L611.10,292.67 L612.03,292.67 L612.97,292.67 L613.90,292.68 L614.83,292.68 L615.77,292.68 L616.70,292.68 L617.63,292.68 L618.57,292.69 L619.50,292.69 L620.43,292.69 L621.37,292.69 L622.30,292.69 L623.23,292.70 L624.17,292.70 L625.10,292.70 L626.03,292.70 L626.97,292.70 L627.90,292.71 L628.83,292.71 L629.77,292.71 L630.70,292.71 L631.63,292.71 L632.57,292.72 L633.50,292.72" fill="none" stroke="#000" stroke-width="8.0" stroke-linejoin="round" stroke-linecap="round"/>
<path d="M73.50,345.50 L74.43,345.53 L75.37,345.51 L76.30,345.44 L77.23,345.31 L78.17,345.12 L79.10,344.89 L80.03,344.60 L80.97,344.26 L81.90,343.88 L82.83,343.45 L83.77,342.97 L84.70,342.45 L85.63,341.88 L86.57,341.28 L87.50,340.64 L88.43,339.98 L89.37,339.29 L90.30,338.58 L91.23,337.85 L92.17,337.09 L93.10,336.30 L94.03,335.50 L94.97,334.67 L95.90,333.81 L96.83,332.93 L97.77,332.03 L98.70,331.12 L99.63,330.19 L100.57,329.27 L101.50,328.33 L102.43,327.40 L103.37,326.47 L104.30,325.55 L105.23,324.63 L106.17,323.72 L107.10,322.81 L108.03,321.92 L108.97,321.05 L109.90,320.18 L110.83,319.34 L111.77,318.52 L112.70,317.71 L113.63,316.92 L114.57,316.15 L115.50,315.40 L116.43,314.67 L117.37,313.96 L118.30,313.26 L119.23,312.59 L120.17,311.94 L121.10,311.31 L122.03,310.69 L122.97,310.10 L123.90,309.52 L124.83,308.96 L125.77,308.42 L126.70,307.90 L127.63,307.39 L128.57,306.90 L129.50,306.43 L130.43,305.96 L131.37,305.50 L132.30,305.05 L133.23,304.61 L134.17,304.17 L135.10,303.74 L136.03,303.31 L136.97,302.90 L137.90,302.49 L138.83,302.09 L139.77,301.70 L140.70,301.31 L141.63,300.94 L142.57,300.58 L143.50,300.22 L144.43,299.88 L145.37,299.55 L146.30,299.22 L147.23,298.91 L148.17,298.61 L149.10,298.33 L150.03,298.05 L150.97,297.79 L151.90,297.54 L152.83,297.31 L153.77,297.08 L154.70,296.88 L155.63,296.69 L156.57,296.51 L157.50,296.33 L158.43,296.17 L159.37,296.00 L160.30,295.85 L161.23,295.70 L162.17,295.56 L163.10,295.42 L164.03,295.29 L164.97,295.16 L165.90,295.04 L166.83,294.92 L167.77,294.81 L168.70,294.70 L169.63,294.60 L170.57,294.49 L171.50,294.40 L172.43,294.30 L173.37,294.22 L174.30,294.13 L175.23,294.05 L176.17,293.97 L177.10,293.89 L178.03,293.82 L178.97,293.75 L179.90,293.68 L180.83,293.61 L181.77,293.55 L182.70,293.49 L183.63,293.43 L184.57,293.37 L185.50,293.32 L186.43,293.27 L187.37,293.22 L188.30,293.17 L189.23,293.12 L190.17,293.07 L191.10,293.03 L192.03,292.99 L192.97,292.94 L193.90,292.90 L194.83,292.86 L195.77,292.82 L196.70,292.79 L197.63,292.75 L198.57,292.72 L199.50,292.68 L200.43,292.65 L201.37,292.62 L202.30,292.59 L203.23,292.56 L204.17,292.53 L205.10,292.50 L206.03,292.47 L206.97,292.45 L207.90,292.42 L208.83,292.40 L209.77,292.38 L210.70,292.36 L211.63,292.34 L212.57,292.32 L213.50,292.30 L214.43,292.28 L215.37,292.27 L216.30,292.25 L217.23,292.24 L218.17,292.23 L219.10,292.21 L220.03,292.20 L220.97,292.19 L221.90,292.19 L222.83,292.18 L223.77,292.17 L224.70,292.17 L225.63,292.16 L226.57,292.15 L227.50,292.15 L228.43,292.14 L229.37,292.14 L230.30,292.13 L231.23,292.13 L232.17,292.13 L233.10,292.12 L234.03,292.12 L234.97,292.11 L235.90,292.11 L236.83,292.11 L237.77,292.10 L238.70,292.10 L239.63,292.10 L240.57,292.10 L241.50,292.09 L242.43,292.09 L243.37,292.09 L244.30,292.09 L245.23,292.09 L246.17,292.09 L247.10,292.08 L248.03,292.08 L248.97,292.08 L249.90,292.08 L250.83,292.08 L251.77,292.08 L252.70,292.08 L253.63,292.08 L254.57,292.08 L255.50,292.08 L256.43,292.08 L257.37,292.07 L258.30,292.07 L259.23,292.07 L260.17,292.07 L261.10,292.07 L262.03,292.07 L262.97,292.07 L263.90,292.07 L264.83,292.07 L265.77,292.07 L266.70,292.08 L267.63,292.08 L268.57,292.08 L269.50,292.08 L270.43,292.08 L271.37,292.08 L272.30,292.08 L273.23,292.08 L274.17,292.08 L275.10,292.08 L276.03,292.08 L276.97,292.08 L277.90,292.08 L278.83,292.08 L279.77,292.08 L280.70,292.09 L281.63,292.09 L282.57,292.09 L283.50,292.09 L284.43,292.09 L285.37,292.09 L286.30,292.09 L287.23,292.09 L288.17,292.09 L289.10,292.10 L290.03,292.10 L290.97,292.10 L291.90,292.10 L292.83,292.10 L293.77,292.10 L294.70,292.10 L295.63,292.11 L296.57,292.11 L297.50,292.11 L298.43,292.11 L299.37,292.11 L300.30,292.11 L301.23,292.11 L302.17,292.12 L303.10,292.12 L304.03,292.12 L304.97,292.12 L305.90,292.12 L306.83,292.12 L307.77,292.12 L308.70,292.13 L309.63,292.13 L310.57,292.13 L311.50,292.13 L312.43,292.13 L313.37,292.13 L314.30,292.14 L315.23,292.14 L316.17,292.14 L317.10,292.14 L318.03,292.14 L318.97,292.14 L319.90,292.15 L320.83,292.15 L321.77,292.15 L322.70,292.15 L323.63,292.15 L324.57,292.15 L325.50,292.15 L326.43,292.16 L327.37,292.16 L328.30,292.16 L329.23,292.16 L330.17,292.16 L331.10,292.16 L332.03,292.17 L332.97,292.17 L333.90,292.17 L334.83,292.17 L335.77,292.17 L336.70,292.17 L337.63,292.18 L338.57,292.18 L339.50,292.18 L340.43,292.18 L341.37,292.18 L342.30,292.18 L343.23,292.19 L344.17,292.19 L345.10,292.19 L346.03,292.19 L346.97,292.19 L347.90,292.19 L348.83,292.20 L349.77,292.20 L350.70,292.20 L351.63,292.20 L352.57,292.20 L353.50,292.20 L354.43,292.21 L355.37,292.21 L356.30,292.21 L357.23,292.21 L358.17,292.21 L359.10,292.21 L360.03,292.22 L360.97,292.22 L361.90,292.22 L362.83,292.22 L363.77,292.22 L364.70,292.22 L365.63,292.23 L366.57,292.23 L367.50,292.23 L368.43,292.23 L369.37,292.23 L370.30,292.23 L371.23,292.24 L372.17,292.24 L373.10,292.24 L374.03,292.24 L374.97,292.24 L375.90,292.24 L376.83,292.25 L377.77,292.25 L378.70,292.25 L379.63,292.25 L380.57,292.25 L381.50,292.25 L382.43,292.26 L383.37,292.26 L384.30,292.26 L385.23,292.26 L386.17,292.26 L387.10,292.26 L388.03,292.26 L388.97,292.27 L389.90,292.27 L390.83,292.27 L391.77,292.27 L392.70,292.27 L393.63,292.27 L394.57,292.28 L395.50,292.28 L396.43,292.28 L397.37,292.28 L398.30,292.28 L399.23,292.28 L400.17,292.28 L401.10,292.29 L402.03,292.29 L402.97,292.29 L403.90,292.29 L404.83,292.29 L405.77,292.29 L406.70,292.29 L407.63,292.30 L408.57,292.30 L409.50,292.30 L410.43,292.30 L411.37,292.30 L412.30,292.30 L413.23,292.30 L414.17,292.31 L415.10,292.31 L416.03,292.31 L416.97,292.31 L417.90,292.31 L418.83,292.31 L419.77,292.32 L420.70,292.32 L421.63,292.32 L422.57,292.32 L423.50,292.32 L424.43,292.32 L425.37,292.32 L426.30,292.33 L427.23,292.33 L428.17,292.33 L429.10,292.33 L430.03,292.33 L430.97,292.33 L431.90,292.33 L432.83,292.34 L433.77,292.34 L434.70,292.34 L435.63,292.34 L436.57,292.34 L437.50,292.34 L438.43,292.35 L439.37,292.35 L440.30,292.35 L441.23,292.35 L442.17,292.35 L443.10,292.35 L444.03,292.35 L444.97,292.36 L445.90,292.36 L446.83,292.36 L447.77,292.36 L448.70,292.36 L449.63,292.36 L450.57,292.37 L451.50,292.37 L452.43,292.37 L453.37,292.37 L454.30,292.37 L455.23,292.37 L456.17,292.37 L457.10,292.38 L458.03,292.38 L458.97,292.38 L459.90,292.38 L460.83,292.38 L461.77,292.38 L462.70,292.39 L463.63,292.39 L464.57,292.39 L465.50,292.39 L466.43,292.39 L467.37,292.39 L468.30,292.40 L469.23,292.40 L470.17,292.40 L471.10,292.40 L472.03,292.40 L472.97,292.40 L473.90,292.41 L474.83,292.41 L475.77,292.41 L476.70,292.41 L477.63,292.41 L478.57,292.41 L479.50,292.42 L480.43,292.42 L481.37,292.42 L482.30,292.42 L483.23,292.42 L484.17,292.42 L485.10,292.43 L486.03,292.43 L486.97,292.43 L487.90,292.43 L488.83,292.43 L489.77,292.43 L490.70,292.44 L491.63,292.44 L492.57,292.44 L493.50,292.44 L494.43,292.44 L495.37,292.44 L496.30,292.45 L497.23,292.45 L498.17,292.45 L499.10,292.45 L500.03,292.45 L500.97,292.45 L501.90,292.46 L502.83,292.46 L503.77,292.46 L504.70,292.46 L505.63,292.46 L506.57,292.46 L507.50,292.47 L508.43,292.47 L509.37,292.47 L510.30,292.47 L511.23,292.47 L512.17,292.47 L513.10,292.48 L514.03,292.48 L514.97,292.48 L515.90,292.48 L516.83,292.48 L517.77,292.48 L518.70,292.49 L519.63,292.49 L520.57,292.49 L521.50,292.49 L522.43,292.49 L523.37,292.50 L524.30,292.50 L525.23,292.50 L526.17,292.50 L527.10,292.50 L528.03,292.50 L528.97,292.51 L529.90,292.51 L530.83,292.51 L531.77,292.51 L532.70,292.51 L533.63,292.51 L534.57,292.52 L535.50,292.52 L536.43,292.52 L537.37,292.52 L538.30,292.52 L539.23,292.53 L540.17,292.53 L541.10,292.53 L542.03,292.53 L542.97,292.53 L543.90,292.53 L544.83,292.54 L545.77,292.54 L546.70,292.54 L547.63,292.54 L548.57,292.54 L549.50,292.55 L550.43,292.55 L551.37,292.55 L552.30,292.55 L553.23,292.55 L554.17,292.55 L555.10,292.56 L556.03,292.56 L556.97,292.56 L557.90,292.56 L558.83,292.56 L559.77,292.57 L560.70,292.57 L561.63,292.57 L562.57,292.57 L563.50,292.57 L564.43,292.57 L565.37,292.58 L566.30,292.58 L567.23,292.58 L568.17,292.58 L569.10,292.58 L570.03,292.59 L570.97,292.59 L571.90,292.59 L572.83,292.59 L573.77,292.59 L574.70,292.60 L575.63,292.60 L576.57,292.60 L577.50,292.60 L578.43,292.60 L579.37,292.60 L580.30,292.61 L581.23,292.61 L582.17,292.61 L583.10,292.61 L584.03,292.61 L584.97,292.62 L585.90,292.62 L586.83,292.62 L587.77,292.62 L588.70,292.62 L589.63,292.63 L590.57,292.63 L591.50,292.63 L592.43,292.63 L593.37,292.63 L594.30,292.64 L595.23,292.64 L596.17,292.64 L597.10,292.64 L598.03,292.64 L598.97,292.64 L599.90,292.65 L600.83,292.65 L601.77,292.65 L602.70,292.65 L603.63,292.65 L604.57,292.66 L605.50,292.66 L606.43,292.66 L607.37,292.66 L608.30,292.66 L609.23,292.67 L610.17,292.67 L611.10,292.67 L612.03,292.67 L612.97,292.67 L613.90,292.68 L614.83,292.68 L615.77,292.68 L616.70,292.68 L617.63,292.68 L618.57,292.69 L619.50,292.69 L620.43,292.69 L621.37,292.69 L622.30,292.69 L623.23,292.70 L624.17,292.70 L625.10,292.70 L626.03,292.70 L626.97,292.70 L627.90,292.71 L628.83,292.71 L629.77,292.71 L630.70,292.71 L631.63,292.71 L632.57,292.72 L633.50,292.72" fill="none" stroke="#cccccc" stroke-width="4.0" stroke-linejoin="round" stroke-linecap="butt" stroke-dasharray="15.2 15"/>
<rect x="540.5" y="43.5" width="80.0" height="157.0" fill="#fff" stroke="#444444" stroke-width="1"/>
<path d="M544.5,64.66 H581.7" fill="none" stroke="#000" stroke-width="4.0" stroke-dasharray="4 3.56"/>
<text x="584.60" y="69.06" font-size="23" text-anchor="start" font-weight="normal" font-style="italic" textLength="12.00" lengthAdjust="spacingAndGlyphs">ρ</text>
<text x="596.80" y="78.66" font-size="17" text-anchor="start" font-weight="normal" font-style="normal" textLength="19.60" lengthAdjust="spacingAndGlyphs" stroke-width="0.15">11</text>
<path d="M544.5,102.88 H581.7" fill="none" stroke="#000" stroke-width="4.0" stroke-dasharray="15 4.1 7 4.1"/>
<text x="584.60" y="107.28" font-size="23" text-anchor="start" font-weight="normal" font-style="italic" textLength="12.00" lengthAdjust="spacingAndGlyphs">ρ</text>
<text x="596.80" y="116.88" font-size="17" text-anchor="start" font-weight="normal" font-style="normal" textLength="19.60" lengthAdjust="spacingAndGlyphs" stroke-width="0.15">22</text>
<path d="M544.5,141.12 H581.7" fill="none" stroke="#000" stroke-width="8.0"/>
<text x="584.60" y="145.52" font-size="23" text-anchor="start" font-weight="normal" font-style="italic" textLength="12.00" lengthAdjust="spacingAndGlyphs">ρ</text>
<text x="596.80" y="155.12" font-size="17" text-anchor="start" font-weight="normal" font-style="normal" textLength="19.60" lengthAdjust="spacingAndGlyphs" stroke-width="0.15">33</text>
<path d="M544.5,179.34 H581.7" fill="none" stroke="#cccccc" stroke-width="4.0" stroke-dasharray="15.2 15"/>
<text x="584.60" y="183.75" font-size="23" text-anchor="start" font-weight="normal" font-style="italic" textLength="12.00" lengthAdjust="spacingAndGlyphs">ρ</text>
<text x="596.80" y="193.34" font-size="17" text-anchor="start" font-weight="normal" font-style="normal" textLength="19.60" lengthAdjust="spacingAndGlyphs" stroke-width="0.15">44</text>
<rect x="73.5" y="570.5" width="560.0" height="314.0" fill="none" stroke="#585858" stroke-width="1"/>
<text x="73.50" y="916.20" font-size="24.2" text-anchor="middle" font-weight="normal" font-style="normal" textLength="13.60" lengthAdjust="spacingAndGlyphs" class="tk">0</text>
<path d="M260.5,884.5 v-5.6 M260.5,570.5 v5.6" stroke="#585858" stroke-width="1" fill="none"/>
<text x="260.17" y="916.20" font-size="24.2" text-anchor="middle" font-weight="normal" font-style="normal" textLength="13.60" lengthAdjust="spacingAndGlyphs" class="tk">5</text>
<path d="M446.5,884.5 v-5.6 M446.5,570.5 v5.6" stroke="#585858" stroke-width="1" fill="none"/>
<text x="446.83" y="916.20" font-size="24.2" text-anchor="middle" font-weight="normal" font-style="normal" textLength="26.60" lengthAdjust="spacingAndGlyphs" class="tk">10</text>
<text x="633.50" y="916.20" font-size="24.2" text-anchor="middle" font-weight="normal" font-style="normal" textLength="25.40" lengthAdjust="spacingAndGlyphs" class="tk">15</text>
<text x="65.20" y="892.70" font-size="24.2" text-anchor="end" font-weight="normal" font-style="normal" textLength="13.40" lengthAdjust="spacingAndGlyphs" class="tk">0</text>
<path d="M73.5,821.5 h5.6 M633.5,821.5 h-5.6" stroke="#585858" stroke-width="1" fill="none"/>
<text x="65.20" y="829.90" font-size="24.2" text-anchor="end" font-weight="normal" font-style="normal" textLength="34.60" lengthAdjust="spacingAndGlyphs" class="tk">0.2</text>
<path d="M73.5,758.5 h5.6 M633.5,758.5 h-5.6" stroke="#585858" stroke-width="1" fill="none"/>
<text x="65.20" y="767.10" font-size="24.2" text-anchor="end" font-weight="normal" font-style="normal" textLength="34.60" lengthAdjust="spacingAndGlyphs" class="tk">0.4</text>
<path d="M73.5,696.5 h5.6 M633.5,696.5 h-5.6" stroke="#585858" stroke-width="1" fill="none"/>
<text x="65.20" y="704.30" font-size="24.2" text-anchor="end" font-weight="normal" font-style="normal" textLength="34.60" lengthAdjust="spacingAndGlyphs" class="tk">0.6</text>
<path d="M73.5,633.5 h5.6 M633.5,633.5 h-5.6" stroke="#585858" stroke-width="1" fill="none"/>
<text x="65.20" y="641.50" font-size="24.2" text-anchor="end" font-weight="normal" font-style="normal" textLength="34.60" lengthAdjust="spacingAndGlyphs" class="tk">0.8</text>
<text x="65.20" y="578.70" font-size="24.2" text-anchor="end" font-weight="normal" font-style="normal" textLength="13.40" lengthAdjust="spacingAndGlyphs" class="tk">1</text>
<text x="352.80" y="558.70" font-size="27" text-anchor="middle" font-weight="normal" font-style="normal" textLength="126.50" lengthAdjust="spacingAndGlyphs">d = 52 nm</text>
<text x="1.60" y="533.30" font-size="26" text-anchor="start" font-weight="bold" font-style="normal" textLength="33.00" lengthAdjust="spacingAndGlyphs">(b)</text>
<text x="325.00" y="953.10" font-size="27.5" text-anchor="start" font-weight="normal" font-style="normal" textLength="44.00" lengthAdjust="spacingAndGlyphs">Ω/Γ</text>
<text x="371.20" y="966.10" font-size="20.5" text-anchor="start" font-weight="normal" font-style="normal" textLength="10.60" lengthAdjust="spacingAndGlyphs">0</text>
<g transform="translate(19.9,728.70) rotate(-90)"><text x="0.00" y="0.00" font-size="27" text-anchor="middle" font-weight="normal" font-style="normal" textLength="228.50" lengthAdjust="spacingAndGlyphs">Population (Bare)</text></g>
<path d="M73.50,570.50 L74.43,570.58 L75.37,570.82 L76.30,571.21 L77.23,571.76 L78.17,572.47 L79.10,573.32 L80.03,574.32 L80.97,575.47 L81.90,576.75 L82.83,578.17 L83.77,579.72 L84.70,581.41 L85.63,583.30 L86.57,585.35 L87.50,587.55 L88.43,589.88 L89.37,592.31 L90.30,594.83 L91.23,597.41 L92.17,600.02 L93.10,602.66 L94.03,605.29 L94.97,607.90 L95.90,610.51 L96.83,613.15 L97.77,615.82 L98.70,618.52 L99.63,621.23 L100.57,623.96 L101.50,626.69 L102.43,629.43 L103.37,632.18 L104.30,634.91 L105.23,637.65 L106.17,640.37 L107.10,643.07 L108.03,645.77 L108.97,648.44 L109.90,651.09 L110.83,653.72 L111.77,656.32 L112.70,658.90 L113.63,661.45 L114.57,663.96 L115.50,666.45 L116.43,668.89 L117.37,671.28 L118.30,673.63 L119.23,675.93 L120.17,678.19 L121.10,680.41 L122.03,682.59 L122.97,684.73 L123.90,686.83 L124.83,688.89 L125.77,690.92 L126.70,692.92 L127.63,694.88 L128.57,696.81 L129.50,698.72 L130.43,700.59 L131.37,702.43 L132.30,704.23 L133.23,705.99 L134.17,707.72 L135.10,709.42 L136.03,711.07 L136.97,712.70 L137.90,714.30 L138.83,715.86 L139.77,717.40 L140.70,718.91 L141.63,720.39 L142.57,721.84 L143.50,723.27 L144.43,724.68 L145.37,726.06 L146.30,727.42 L147.23,728.76 L148.17,730.08 L149.10,731.39 L150.03,732.67 L150.97,733.94 L151.90,735.18 L152.83,736.40 L153.77,737.59 L154.70,738.76 L155.63,739.91 L156.57,741.04 L157.50,742.15 L158.43,743.24 L159.37,744.31 L160.30,745.36 L161.23,746.39 L162.17,747.40 L163.10,748.39 L164.03,749.37 L164.97,750.33 L165.90,751.27 L166.83,752.20 L167.77,753.12 L168.70,754.01 L169.63,754.90 L170.57,755.77 L171.50,756.62 L172.43,757.46 L173.37,758.28 L174.30,759.09 L175.23,759.88 L176.17,760.66 L177.10,761.43 L178.03,762.18 L178.97,762.92 L179.90,763.65 L180.83,764.36 L181.77,765.06 L182.70,765.75 L183.63,766.43 L184.57,767.09 L185.50,767.74 L186.43,768.39 L187.37,769.02 L188.30,769.64 L189.23,770.25 L190.17,770.85 L191.10,771.44 L192.03,772.02 L192.97,772.59 L193.90,773.15 L194.83,773.70 L195.77,774.24 L196.70,774.77 L197.63,775.29 L198.57,775.80 L199.50,776.31 L200.43,776.81 L201.37,777.29 L202.30,777.77 L203.23,778.25 L204.17,778.71 L205.10,779.17 L206.03,779.62 L206.97,780.06 L207.90,780.49 L208.83,780.92 L209.77,781.34 L210.70,781.76 L211.63,782.16 L212.57,782.57 L213.50,782.96 L214.43,783.35 L215.37,783.73 L216.30,784.11 L217.23,784.48 L218.17,784.84 L219.10,785.19 L220.03,785.54 L220.97,785.88 L221.90,786.22 L222.83,786.55 L223.77,786.87 L224.70,787.19 L225.63,787.50 L226.57,787.81 L227.50,788.12 L228.43,788.42 L229.37,788.71 L230.30,789.00 L231.23,789.29 L232.17,789.58 L233.10,789.86 L234.03,790.14 L234.97,790.41 L235.90,790.69 L236.83,790.96 L237.77,791.22 L238.70,791.49 L239.63,791.76 L240.57,792.02 L241.50,792.28 L242.43,792.54 L243.37,792.79 L244.30,793.05 L245.23,793.30 L246.17,793.54 L247.10,793.79 L248.03,794.03 L248.97,794.27 L249.90,794.51 L250.83,794.75 L251.77,794.98 L252.70,795.22 L253.63,795.45 L254.57,795.67 L255.50,795.90 L256.43,796.12 L257.37,796.34 L258.30,796.56 L259.23,796.78 L260.17,796.99 L261.10,797.20 L262.03,797.41 L262.97,797.62 L263.90,797.83 L264.83,798.03 L265.77,798.23 L266.70,798.43 L267.63,798.63 L268.57,798.82 L269.50,799.02 L270.43,799.21 L271.37,799.40 L272.30,799.59 L273.23,799.77 L274.17,799.96 L275.10,800.14 L276.03,800.32 L276.97,800.49 L277.90,800.67 L278.83,800.84 L279.77,801.01 L280.70,801.18 L281.63,801.35 L282.57,801.52 L283.50,801.68 L284.43,801.84 L285.37,802.00 L286.30,802.16 L287.23,802.31 L288.17,802.47 L289.10,802.62 L290.03,802.77 L290.97,802.92 L291.90,803.06 L292.83,803.20 L293.77,803.35 L294.70,803.49 L295.63,803.62 L296.57,803.76 L297.50,803.89 L298.43,804.02 L299.37,804.15 L300.30,804.28 L301.23,804.40 L302.17,804.53 L303.10,804.65 L304.03,804.77 L304.97,804.89 L305.90,805.01 L306.83,805.12 L307.77,805.24 L308.70,805.35 L309.63,805.46 L310.57,805.58 L311.50,805.69 L312.43,805.80 L313.37,805.90 L314.30,806.01 L315.23,806.12 L316.17,806.22 L317.10,806.32 L318.03,806.43 L318.97,806.53 L319.90,806.63 L320.83,806.73 L321.77,806.82 L322.70,806.92 L323.63,807.02 L324.57,807.11 L325.50,807.21 L326.43,807.30 L327.37,807.39 L328.30,807.48 L329.23,807.57 L330.17,807.66 L331.10,807.75 L332.03,807.84 L332.97,807.93 L333.90,808.01 L334.83,808.10 L335.77,808.18 L336.70,808.27 L337.63,808.35 L338.57,808.43 L339.50,808.52 L340.43,808.60 L341.37,808.68 L342.30,808.76 L343.23,808.84 L344.17,808.92 L345.10,808.99 L346.03,809.07 L346.97,809.15 L347.90,809.23 L348.83,809.30 L349.77,809.38 L350.70,809.45 L351.63,809.53 L352.57,809.60 L353.50,809.67 L354.43,809.74 L355.37,809.82 L356.30,809.89 L357.23,809.96 L358.17,810.03 L359.10,810.10 L360.03,810.16 L360.97,810.23 L361.90,810.30 L362.83,810.37 L363.77,810.43 L364.70,810.50 L365.63,810.57 L366.57,810.63 L367.50,810.70 L368.43,810.76 L369.37,810.82 L370.30,810.89 L371.23,810.95 L372.17,811.01 L373.10,811.07 L374.03,811.13 L374.97,811.20 L375.90,811.26 L376.83,811.32 L377.77,811.38 L378.70,811.43 L379.63,811.49 L380.57,811.55 L381.50,811.61 L382.43,811.67 L383.37,811.73 L384.30,811.78 L385.23,811.84 L386.17,811.90 L387.10,811.95 L388.03,812.01 L388.97,812.06 L389.90,812.12 L390.83,812.17 L391.77,812.23 L392.70,812.28 L393.63,812.33 L394.57,812.39 L395.50,812.44 L396.43,812.49 L397.37,812.55 L398.30,812.60 L399.23,812.65 L400.17,812.70 L401.10,812.76 L402.03,812.81 L402.97,812.86 L403.90,812.91 L404.83,812.96 L405.77,813.02 L406.70,813.07 L407.63,813.12 L408.57,813.17 L409.50,813.22 L410.43,813.27 L411.37,813.33 L412.30,813.38 L413.23,813.43 L414.17,813.48 L415.10,813.53 L416.03,813.58 L416.97,813.63 L417.90,813.68 L418.83,813.73 L419.77,813.78 L420.70,813.83 L421.63,813.88 L422.57,813.93 L423.50,813.98 L424.43,814.03 L425.37,814.08 L426.30,814.13 L427.23,814.17 L428.17,814.22 L429.10,814.27 L430.03,814.31 L430.97,814.36 L431.90,814.41 L432.83,814.45 L433.77,814.50 L434.70,814.54 L435.63,814.58 L436.57,814.63 L437.50,814.67 L438.43,814.71 L439.37,814.75 L440.30,814.79 L441.23,814.83 L442.17,814.87 L443.10,814.92 L444.03,814.96 L444.97,815.00 L445.90,815.04 L446.83,815.08 L447.77,815.12 L448.70,815.15 L449.63,815.19 L450.57,815.23 L451.50,815.27 L452.43,815.31 L453.37,815.35 L454.30,815.39 L455.23,815.43 L456.17,815.46 L457.10,815.50 L458.03,815.54 L458.97,815.58 L459.90,815.61 L460.83,815.65 L461.77,815.69 L462.70,815.73 L463.63,815.76 L464.57,815.80 L465.50,815.83 L466.43,815.87 L467.37,815.91 L468.30,815.94 L469.23,815.98 L470.17,816.01 L471.10,816.05 L472.03,816.08 L472.97,816.12 L473.90,816.15 L474.83,816.19 L475.77,816.22 L476.70,816.25 L477.63,816.29 L478.57,816.32 L479.50,816.35 L480.43,816.39 L481.37,816.42 L482.30,816.45 L483.23,816.48 L484.17,816.52 L485.10,816.55 L486.03,816.58 L486.97,816.61 L487.90,816.64 L488.83,816.67 L489.77,816.71 L490.70,816.74 L491.63,816.77 L492.57,816.80 L493.50,816.83 L494.43,816.86 L495.37,816.89 L496.30,816.91 L497.23,816.94 L498.17,816.97 L499.10,817.00 L500.03,817.03 L500.97,817.06 L501.90,817.08 L502.83,817.11 L503.77,817.14 L504.70,817.17 L505.63,817.19 L506.57,817.22 L507.50,817.25 L508.43,817.27 L509.37,817.30 L510.30,817.32 L511.23,817.35 L512.17,817.37 L513.10,817.40 L514.03,817.42 L514.97,817.45 L515.90,817.47 L516.83,817.49 L517.77,817.52 L518.70,817.54 L519.63,817.56 L520.57,817.58 L521.50,817.61 L522.43,817.63 L523.37,817.65 L524.30,817.67 L525.23,817.69 L526.17,817.71 L527.10,817.73 L528.03,817.75 L528.97,817.77 L529.90,817.79 L530.83,817.81 L531.77,817.83 L532.70,817.85 L533.63,817.87 L534.57,817.89 L535.50,817.90 L536.43,817.92 L537.37,817.94 L538.30,817.95 L539.23,817.97 L540.17,817.99 L541.10,818.00 L542.03,818.02 L542.97,818.03 L543.90,818.05 L544.83,818.06 L545.77,818.08 L546.70,818.10 L547.63,818.11 L548.57,818.13 L549.50,818.14 L550.43,818.16 L551.37,818.17 L552.30,818.19 L553.23,818.20 L554.17,818.21 L555.10,818.23 L556.03,818.24 L556.97,818.26 L557.90,818.27 L558.83,818.29 L559.77,818.30 L560.70,818.31 L561.63,818.33 L562.57,818.34 L563.50,818.36 L564.43,818.37 L565.37,818.38 L566.30,818.40 L567.23,818.41 L568.17,818.42 L569.10,818.44 L570.03,818.45 L570.97,818.46 L571.90,818.48 L572.83,818.49 L573.77,818.50 L574.70,818.52 L575.63,818.53 L576.57,818.54 L577.50,818.55 L578.43,818.57 L579.37,818.58 L580.30,818.59 L581.23,818.60 L582.17,818.62 L583.10,818.63 L584.03,818.64 L584.97,818.65 L585.90,818.67 L586.83,818.68 L587.77,818.69 L588.70,818.70 L589.63,818.71 L590.57,818.73 L591.50,818.74 L592.43,818.75 L593.37,818.76 L594.30,818.77 L595.23,818.78 L596.17,818.80 L597.10,818.81 L598.03,818.82 L598.97,818.83 L599.90,818.84 L600.83,818.85 L601.77,818.86 L602.70,818.87 L603.63,818.88 L604.57,818.90 L605.50,818.91 L606.43,818.92 L607.37,818.93 L608.30,818.94 L609.23,818.95 L610.17,818.96 L611.10,818.97 L612.03,818.98 L612.97,818.99 L613.90,819.00 L614.83,819.01 L615.77,819.02 L616.70,819.03 L617.63,819.04 L618.57,819.05 L619.50,819.06 L620.43,819.07 L621.37,819.08 L622.30,819.09 L623.23,819.10 L624.17,819.11 L625.10,819.12 L626.03,819.13 L626.97,819.14 L627.90,819.15 L628.83,819.16 L629.77,819.17 L630.70,819.18 L631.63,819.19 L632.57,819.20 L633.50,819.21" fill="none" stroke="#000" stroke-width="4.0" stroke-linejoin="round" stroke-linecap="round"/>
<path d="M73.50,884.50 L74.43,884.44 L75.37,884.25 L76.30,883.95 L77.23,883.54 L78.17,883.03 L79.10,882.44 L80.03,881.77 L80.97,881.04 L81.90,880.26 L82.83,879.45 L83.77,878.60 L84.70,877.72 L85.63,876.83 L86.57,875.92 L87.50,875.01 L88.43,874.08 L89.37,873.15 L90.30,872.21 L91.23,871.26 L92.17,870.31 L93.10,869.36 L94.03,868.40 L94.97,867.44 L95.90,866.47 L96.83,865.49 L97.77,864.52 L98.70,863.54 L99.63,862.56 L100.57,861.57 L101.50,860.59 L102.43,859.60 L103.37,858.62 L104.30,857.63 L105.23,856.65 L106.17,855.68 L107.10,854.70 L108.03,853.74 L108.97,852.78 L109.90,851.83 L110.83,850.89 L111.77,849.95 L112.70,849.03 L113.63,848.13 L114.57,847.23 L115.50,846.35 L116.43,845.48 L117.37,844.63 L118.30,843.80 L119.23,842.98 L120.17,842.17 L121.10,841.39 L122.03,840.62 L122.97,839.87 L123.90,839.14 L124.83,838.42 L125.77,837.73 L126.70,837.05 L127.63,836.38 L128.57,835.74 L129.50,835.12 L130.43,834.51 L131.37,833.92 L132.30,833.34 L133.23,832.78 L134.17,832.24 L135.10,831.72 L136.03,831.21 L136.97,830.71 L137.90,830.23 L138.83,829.77 L139.77,829.32 L140.70,828.88 L141.63,828.46 L142.57,828.05 L143.50,827.66 L144.43,827.27 L145.37,826.90 L146.30,826.54 L147.23,826.19 L148.17,825.85 L149.10,825.53 L150.03,825.21 L150.97,824.91 L151.90,824.61 L152.83,824.32 L153.77,824.04 L154.70,823.77 L155.63,823.51 L156.57,823.26 L157.50,823.02 L158.43,822.78 L159.37,822.55 L160.30,822.33 L161.23,822.11 L162.17,821.90 L163.10,821.70 L164.03,821.50 L164.97,821.31 L165.90,821.13 L166.83,820.95 L167.77,820.77 L168.70,820.60 L169.63,820.44 L170.57,820.28 L171.50,820.13 L172.43,819.98 L173.37,819.83 L174.30,819.69 L175.23,819.55 L176.17,819.42 L177.10,819.29 L178.03,819.16 L178.97,819.04 L179.90,818.92 L180.83,818.81 L181.77,818.69 L182.70,818.58 L183.63,818.48 L184.57,818.37 L185.50,818.27 L186.43,818.17 L187.37,818.08 L188.30,817.99 L189.23,817.90 L190.17,817.81 L191.10,817.72 L192.03,817.64 L192.97,817.56 L193.90,817.48 L194.83,817.40 L195.77,817.32 L196.70,817.25 L197.63,817.18 L198.57,817.11 L199.50,817.04 L200.43,816.97 L201.37,816.91 L202.30,816.84 L203.23,816.78 L204.17,816.72 L205.10,816.66 L206.03,816.60 L206.97,816.55 L207.90,816.49 L208.83,816.44 L209.77,816.38 L210.70,816.33 L211.63,816.28 L212.57,816.23 L213.50,816.19 L214.43,816.14 L215.37,816.09 L216.30,816.05 L217.23,816.00 L218.17,815.96 L219.10,815.92 L220.03,815.88 L220.97,815.84 L221.90,815.80 L222.83,815.76 L223.77,815.72 L224.70,815.68 L225.63,815.65 L226.57,815.61 L227.50,815.58 L228.43,815.54 L229.37,815.51 L230.30,815.48 L231.23,815.44 L232.17,815.41 L233.10,815.38 L234.03,815.35 L234.97,815.32 L235.90,815.29 L236.83,815.26 L237.77,815.23 L238.70,815.21 L239.63,815.18 L240.57,815.15 L241.50,815.13 L242.43,815.10 L243.37,815.08 L244.30,815.05 L245.23,815.03 L246.17,815.00 L247.10,814.98 L248.03,814.96 L248.97,814.93 L249.90,814.91 L250.83,814.89 L251.77,814.87 L252.70,814.85 L253.63,814.83 L254.57,814.81 L255.50,814.79 L256.43,814.77 L257.37,814.75 L258.30,814.73 L259.23,814.71 L260.17,814.69 L261.10,814.67 L262.03,814.66 L262.97,814.64 L263.90,814.62 L264.83,814.60 L265.77,814.59 L266.70,814.57 L267.63,814.55 L268.57,814.54 L269.50,814.52 L270.43,814.51 L271.37,814.49 L272.30,814.48 L273.23,814.46 L274.17,814.45 L275.10,814.43 L276.03,814.42 L276.97,814.41 L277.90,814.39 L278.83,814.38 L279.77,814.37 L280.70,814.35 L281.63,814.34 L282.57,814.33 L283.50,814.32 L284.43,814.30 L285.37,814.29 L286.30,814.28 L287.23,814.27 L288.17,814.26 L289.10,814.24 L290.03,814.23 L290.97,814.22 L291.90,814.21 L292.83,814.20 L293.77,814.19 L294.70,814.18 L295.63,814.17 L296.57,814.16 L297.50,814.15 L298.43,814.14 L299.37,814.13 L300.30,814.12 L301.23,814.11 L302.17,814.10 L303.10,814.09 L304.03,814.08 L304.97,814.07 L305.90,814.06 L306.83,814.06 L307.77,814.05 L308.70,814.04 L309.63,814.03 L310.57,814.02 L311.50,814.01 L312.43,814.00 L313.37,814.00 L314.30,813.99 L315.23,813.98 L316.17,813.97 L317.10,813.97 L318.03,813.96 L318.97,813.95 L319.90,813.94 L320.83,813.94 L321.77,813.93 L322.70,813.92 L323.63,813.91 L324.57,813.91 L325.50,813.90 L326.43,813.89 L327.37,813.89 L328.30,813.88 L329.23,813.87 L330.17,813.87 L331.10,813.86 L332.03,813.86 L332.97,813.85 L333.90,813.84 L334.83,813.84 L335.77,813.83 L336.70,813.82 L337.63,813.82 L338.57,813.81 L339.50,813.81 L340.43,813.80 L341.37,813.80 L342.30,813.79 L343.23,813.78 L344.17,813.78 L345.10,813.77 L346.03,813.77 L346.97,813.76 L347.90,813.76 L348.83,813.75 L349.77,813.75 L350.70,813.74 L351.63,813.74 L352.57,813.73 L353.50,813.73 L354.43,813.72 L355.37,813.72 L356.30,813.71 L357.23,813.71 L358.17,813.70 L359.10,813.70 L360.03,813.70 L360.97,813.69 L361.90,813.69 L362.83,813.68 L363.77,813.68 L364.70,813.67 L365.63,813.67 L366.57,813.66 L367.50,813.66 L368.43,813.66 L369.37,813.65 L370.30,813.65 L371.23,813.64 L372.17,813.64 L373.10,813.64 L374.03,813.63 L374.97,813.63 L375.90,813.62 L376.83,813.62 L377.77,813.62 L378.70,813.61 L379.63,813.61 L380.57,813.61 L381.50,813.60 L382.43,813.60 L383.37,813.60 L384.30,813.59 L385.23,813.59 L386.17,813.59 L387.10,813.58 L388.03,813.58 L388.97,813.58 L389.90,813.57 L390.83,813.57 L391.77,813.57 L392.70,813.56 L393.63,813.56 L394.57,813.56 L395.50,813.55 L396.43,813.55 L397.37,813.55 L398.30,813.54 L399.23,813.54 L400.17,813.54 L401.10,813.53 L402.03,813.53 L402.97,813.53 L403.90,813.53 L404.83,813.52 L405.77,813.52 L406.70,813.52 L407.63,813.51 L408.57,813.51 L409.50,813.51 L410.43,813.51 L411.37,813.50 L412.30,813.50 L413.23,813.50 L414.17,813.50 L415.10,813.49 L416.03,813.49 L416.97,813.49 L417.90,813.49 L418.83,813.48 L419.77,813.48 L420.70,813.48 L421.63,813.48 L422.57,813.47 L423.50,813.47 L424.43,813.47 L425.37,813.47 L426.30,813.46 L427.23,813.46 L428.17,813.46 L429.10,813.46 L430.03,813.45 L430.97,813.45 L431.90,813.45 L432.83,813.45 L433.77,813.45 L434.70,813.44 L435.63,813.44 L436.57,813.44 L437.50,813.44 L438.43,813.43 L439.37,813.43 L440.30,813.43 L441.23,813.43 L442.17,813.43 L443.10,813.42 L444.03,813.42 L444.97,813.42 L445.90,813.42 L446.83,813.42 L447.77,813.41 L448.70,813.41 L449.63,813.41 L450.57,813.41 L451.50,813.41 L452.43,813.41 L453.37,813.40 L454.30,813.40 L455.23,813.40 L456.17,813.40 L457.10,813.40 L458.03,813.39 L458.97,813.39 L459.90,813.39 L460.83,813.39 L461.77,813.39 L462.70,813.39 L463.63,813.38 L464.57,813.38 L465.50,813.38 L466.43,813.38 L467.37,813.38 L468.30,813.38 L469.23,813.37 L470.17,813.37 L471.10,813.37 L472.03,813.37 L472.97,813.37 L473.90,813.37 L474.83,813.36 L475.77,813.36 L476.70,813.36 L477.63,813.36 L478.57,813.36 L479.50,813.36 L480.43,813.36 L481.37,813.35 L482.30,813.35 L483.23,813.35 L484.17,813.35 L485.10,813.35 L486.03,813.35 L486.97,813.35 L487.90,813.34 L488.83,813.34 L489.77,813.34 L490.70,813.34 L491.63,813.34 L492.57,813.34 L493.50,813.34 L494.43,813.33 L495.37,813.33 L496.30,813.33 L497.23,813.33 L498.17,813.33 L499.10,813.33 L500.03,813.33 L500.97,813.32 L501.90,813.32 L502.83,813.32 L503.77,813.32 L504.70,813.32 L505.63,813.32 L506.57,813.32 L507.50,813.32 L508.43,813.31 L509.37,813.31 L510.30,813.31 L511.23,813.31 L512.17,813.31 L513.10,813.31 L514.03,813.31 L514.97,813.31 L515.90,813.31 L516.83,813.30 L517.77,813.30 L518.70,813.30 L519.63,813.30 L520.57,813.30 L521.50,813.30 L522.43,813.30 L523.37,813.30 L524.30,813.30 L525.23,813.29 L526.17,813.29 L527.10,813.29 L528.03,813.29 L528.97,813.29 L529.90,813.29 L530.83,813.29 L531.77,813.29 L532.70,813.29 L533.63,813.28 L534.57,813.28 L535.50,813.28 L536.43,813.28 L537.37,813.28 L538.30,813.28 L539.23,813.28 L540.17,813.28 L541.10,813.28 L542.03,813.28 L542.97,813.27 L543.90,813.27 L544.83,813.27 L545.77,813.27 L546.70,813.27 L547.63,813.27 L548.57,813.27 L549.50,813.27 L550.43,813.27 L551.37,813.27 L552.30,813.27 L553.23,813.26 L554.17,813.26 L555.10,813.26 L556.03,813.26 L556.97,813.26 L557.90,813.26 L558.83,813.26 L559.77,813.26 L560.70,813.26 L561.63,813.26 L562.57,813.26 L563.50,813.26 L564.43,813.25 L565.37,813.25 L566.30,813.25 L567.23,813.25 L568.17,813.25 L569.10,813.25 L570.03,813.25 L570.97,813.25 L571.90,813.25 L572.83,813.25 L573.77,813.25 L574.70,813.25 L575.63,813.24 L576.57,813.24 L577.50,813.24 L578.43,813.24 L579.37,813.24 L580.30,813.24 L581.23,813.24 L582.17,813.24 L583.10,813.24 L584.03,813.24 L584.97,813.24 L585.90,813.24 L586.83,813.24 L587.77,813.23 L588.70,813.23 L589.63,813.23 L590.57,813.23 L591.50,813.23 L592.43,813.23 L593.37,813.23 L594.30,813.23 L595.23,813.23 L596.17,813.23 L597.10,813.23 L598.03,813.23 L598.97,813.23 L599.90,813.23 L600.83,813.23 L601.77,813.22 L602.70,813.22 L603.63,813.22 L604.57,813.22 L605.50,813.22 L606.43,813.22 L607.37,813.22 L608.30,813.22 L609.23,813.22 L610.17,813.22 L611.10,813.22 L612.03,813.22 L612.97,813.22 L613.90,813.22 L614.83,813.22 L615.77,813.21 L616.70,813.21 L617.63,813.21 L618.57,813.21 L619.50,813.21 L620.43,813.21 L621.37,813.21 L622.30,813.21 L623.23,813.21 L624.17,813.21 L625.10,813.21 L626.03,813.21 L626.97,813.21 L627.90,813.21 L628.83,813.21 L629.77,813.21 L630.70,813.21 L631.63,813.20 L632.57,813.20 L633.50,813.20" fill="none" stroke="#000" stroke-width="4.0" stroke-linejoin="round" stroke-linecap="butt" stroke-dasharray="15 4.1 7 4.1"/>
<path d="M73.50,884.50 L74.43,884.48 L75.37,884.42 L76.30,884.32 L77.23,884.19 L78.17,884.01 L79.10,883.79 L80.03,883.53 L80.97,883.22 L81.90,882.88 L82.83,882.49 L83.77,882.06 L84.70,881.59 L85.63,881.08 L86.57,880.53 L87.50,879.94 L88.43,879.31 L89.37,878.65 L90.30,877.95 L91.23,877.23 L92.17,876.48 L93.10,875.70 L94.03,874.91 L94.97,874.09 L95.90,873.26 L96.83,872.42 L97.77,871.56 L98.70,870.70 L99.63,869.83 L100.57,868.96 L101.50,868.08 L102.43,867.21 L103.37,866.34 L104.30,865.48 L105.23,864.62 L106.17,863.77 L107.10,862.93 L108.03,862.10 L108.97,861.29 L109.90,860.48 L110.83,859.69 L111.77,858.91 L112.70,858.14 L113.63,857.39 L114.57,856.65 L115.50,855.93 L116.43,855.23 L117.37,854.54 L118.30,853.86 L119.23,853.20 L120.17,852.56 L121.10,851.93 L122.03,851.32 L122.97,850.72 L123.90,850.14 L124.83,849.57 L125.77,849.02 L126.70,848.48 L127.63,847.95 L128.57,847.44 L129.50,846.94 L130.43,846.46 L131.37,845.99 L132.30,845.53 L133.23,845.08 L134.17,844.64 L135.10,844.22 L136.03,843.81 L136.97,843.40 L137.90,843.01 L138.83,842.63 L139.77,842.26 L140.70,841.90 L141.63,841.55 L142.57,841.21 L143.50,840.88 L144.43,840.56 L145.37,840.24 L146.30,839.94 L147.23,839.64 L148.17,839.35 L149.10,839.06 L150.03,838.79 L150.97,838.52 L151.90,838.26 L152.83,838.00 L153.77,837.76 L154.70,837.51 L155.63,837.28 L156.57,837.05 L157.50,836.83 L158.43,836.61 L159.37,836.40 L160.30,836.19 L161.23,835.99 L162.17,835.79 L163.10,835.60 L164.03,835.41 L164.97,835.23 L165.90,835.05 L166.83,834.88 L167.77,834.71 L168.70,834.54 L169.63,834.38 L170.57,834.22 L171.50,834.07 L172.43,833.92 L173.37,833.77 L174.30,833.63 L175.23,833.49 L176.17,833.35 L177.10,833.22 L178.03,833.09 L178.97,832.96 L179.90,832.84 L180.83,832.71 L181.77,832.59 L182.70,832.48 L183.63,832.36 L184.57,832.25 L185.50,832.14 L186.43,832.04 L187.37,831.93 L188.30,831.83 L189.23,831.73 L190.17,831.64 L191.10,831.54 L192.03,831.45 L192.97,831.36 L193.90,831.27 L194.83,831.18 L195.77,831.09 L196.70,831.01 L197.63,830.93 L198.57,830.85 L199.50,830.77 L200.43,830.69 L201.37,830.62 L202.30,830.54 L203.23,830.47 L204.17,830.40 L205.10,830.33 L206.03,830.26 L206.97,830.20 L207.90,830.13 L208.83,830.07 L209.77,830.00 L210.70,829.94 L211.63,829.88 L212.57,829.82 L213.50,829.76 L214.43,829.71 L215.37,829.65 L216.30,829.60 L217.23,829.54 L218.17,829.49 L219.10,829.44 L220.03,829.39 L220.97,829.34 L221.90,829.29 L222.83,829.24 L223.77,829.19 L224.70,829.15 L225.63,829.10 L226.57,829.06 L227.50,829.01 L228.43,828.97 L229.37,828.93 L230.30,828.89 L231.23,828.85 L232.17,828.81 L233.10,828.77 L234.03,828.73 L234.97,828.69 L235.90,828.65 L236.83,828.62 L237.77,828.58 L238.70,828.54 L239.63,828.51 L240.57,828.48 L241.50,828.44 L242.43,828.41 L243.37,828.38 L244.30,828.34 L245.23,828.31 L246.17,828.28 L247.10,828.25 L248.03,828.22 L248.97,828.19 L249.90,828.16 L250.83,828.14 L251.77,828.11 L252.70,828.08 L253.63,828.05 L254.57,828.03 L255.50,828.00 L256.43,827.97 L257.37,827.95 L258.30,827.92 L259.23,827.90 L260.17,827.88 L261.10,827.85 L262.03,827.83 L262.97,827.81 L263.90,827.78 L264.83,827.76 L265.77,827.74 L266.70,827.72 L267.63,827.70 L268.57,827.68 L269.50,827.65 L270.43,827.63 L271.37,827.61 L272.30,827.59 L273.23,827.57 L274.17,827.56 L275.10,827.54 L276.03,827.52 L276.97,827.50 L277.90,827.48 L278.83,827.46 L279.77,827.45 L280.70,827.43 L281.63,827.41 L282.57,827.40 L283.50,827.38 L284.43,827.36 L285.37,827.35 L286.30,827.33 L287.23,827.32 L288.17,827.30 L289.10,827.29 L290.03,827.27 L290.97,827.26 L291.90,827.24 L292.83,827.23 L293.77,827.21 L294.70,827.20 L295.63,827.19 L296.57,827.17 L297.50,827.16 L298.43,827.15 L299.37,827.13 L300.30,827.12 L301.23,827.11 L302.17,827.09 L303.10,827.08 L304.03,827.07 L304.97,827.06 L305.90,827.05 L306.83,827.03 L307.77,827.02 L308.70,827.01 L309.63,827.00 L310.57,826.99 L311.50,826.98 L312.43,826.97 L313.37,826.96 L314.30,826.95 L315.23,826.94 L316.17,826.93 L317.10,826.92 L318.03,826.91 L318.97,826.90 L319.90,826.89 L320.83,826.88 L321.77,826.87 L322.70,826.86 L323.63,826.85 L324.57,826.84 L325.50,826.83 L326.43,826.82 L327.37,826.81 L328.30,826.80 L329.23,826.80 L330.17,826.79 L331.10,826.78 L332.03,826.77 L332.97,826.76 L333.90,826.75 L334.83,826.75 L335.77,826.74 L336.70,826.73 L337.63,826.72 L338.57,826.72 L339.50,826.71 L340.43,826.70 L341.37,826.69 L342.30,826.69 L343.23,826.68 L344.17,826.67 L345.10,826.67 L346.03,826.66 L346.97,826.65 L347.90,826.64 L348.83,826.64 L349.77,826.63 L350.70,826.63 L351.63,826.62 L352.57,826.61 L353.50,826.61 L354.43,826.60 L355.37,826.59 L356.30,826.59 L357.23,826.58 L358.17,826.58 L359.10,826.57 L360.03,826.56 L360.97,826.56 L361.90,826.55 L362.83,826.55 L363.77,826.54 L364.70,826.54 L365.63,826.53 L366.57,826.52 L367.50,826.52 L368.43,826.51 L369.37,826.51 L370.30,826.50 L371.23,826.50 L372.17,826.49 L373.10,826.49 L374.03,826.48 L374.97,826.48 L375.90,826.47 L376.83,826.47 L377.77,826.46 L378.70,826.46 L379.63,826.46 L380.57,826.45 L381.50,826.45 L382.43,826.44 L383.37,826.44 L384.30,826.43 L385.23,826.43 L386.17,826.42 L387.10,826.42 L388.03,826.42 L388.97,826.41 L389.90,826.41 L390.83,826.40 L391.77,826.40 L392.70,826.40 L393.63,826.39 L394.57,826.39 L395.50,826.38 L396.43,826.38 L397.37,826.38 L398.30,826.37 L399.23,826.37 L400.17,826.36 L401.10,826.36 L402.03,826.36 L402.97,826.35 L403.90,826.35 L404.83,826.35 L405.77,826.34 L406.70,826.34 L407.63,826.34 L408.57,826.33 L409.50,826.33 L410.43,826.33 L411.37,826.32 L412.30,826.32 L413.23,826.32 L414.17,826.31 L415.10,826.31 L416.03,826.31 L416.97,826.30 L417.90,826.30 L418.83,826.30 L419.77,826.29 L420.70,826.29 L421.63,826.29 L422.57,826.29 L423.50,826.28 L424.43,826.28 L425.37,826.28 L426.30,826.27 L427.23,826.27 L428.17,826.27 L429.10,826.27 L430.03,826.26 L430.97,826.26 L431.90,826.26 L432.83,826.25 L433.77,826.25 L434.70,826.25 L435.63,826.25 L436.57,826.24 L437.50,826.24 L438.43,826.24 L439.37,826.24 L440.30,826.23 L441.23,826.23 L442.17,826.23 L443.10,826.23 L444.03,826.22 L444.97,826.22 L445.90,826.22 L446.83,826.22 L447.77,826.22 L448.70,826.21 L449.63,826.21 L450.57,826.21 L451.50,826.21 L452.43,826.20 L453.37,826.20 L454.30,826.20 L455.23,826.20 L456.17,826.20 L457.10,826.19 L458.03,826.19 L458.97,826.19 L459.90,826.19 L460.83,826.18 L461.77,826.18 L462.70,826.18 L463.63,826.18 L464.57,826.18 L465.50,826.17 L466.43,826.17 L467.37,826.17 L468.30,826.17 L469.23,826.17 L470.17,826.17 L471.10,826.16 L472.03,826.16 L472.97,826.16 L473.90,826.16 L474.83,826.16 L475.77,826.15 L476.70,826.15 L477.63,826.15 L478.57,826.15 L479.50,826.15 L480.43,826.15 L481.37,826.14 L482.30,826.14 L483.23,826.14 L484.17,826.14 L485.10,826.14 L486.03,826.14 L486.97,826.13 L487.90,826.13 L488.83,826.13 L489.77,826.13 L490.70,826.13 L491.63,826.13 L492.57,826.12 L493.50,826.12 L494.43,826.12 L495.37,826.12 L496.30,826.12 L497.23,826.12 L498.17,826.11 L499.10,826.11 L500.03,826.11 L500.97,826.11 L501.90,826.11 L502.83,826.11 L503.77,826.11 L504.70,826.10 L505.63,826.10 L506.57,826.10 L507.50,826.10 L508.43,826.10 L509.37,826.10 L510.30,826.10 L511.23,826.09 L512.17,826.09 L513.10,826.09 L514.03,826.09 L514.97,826.09 L515.90,826.09 L516.83,826.09 L517.77,826.09 L518.70,826.08 L519.63,826.08 L520.57,826.08 L521.50,826.08 L522.43,826.08 L523.37,826.08 L524.30,826.08 L525.23,826.07 L526.17,826.07 L527.10,826.07 L528.03,826.07 L528.97,826.07 L529.90,826.07 L530.83,826.06 L531.77,826.06 L532.70,826.06 L533.63,826.06 L534.57,826.06 L535.50,826.05 L536.43,826.05 L537.37,826.05 L538.30,826.05 L539.23,826.05 L540.17,826.04 L541.10,826.04 L542.03,826.04 L542.97,826.04 L543.90,826.03 L544.83,826.03 L545.77,826.03 L546.70,826.02 L547.63,826.02 L548.57,826.02 L549.50,826.02 L550.43,826.01 L551.37,826.01 L552.30,826.01 L553.23,826.00 L554.17,826.00 L555.10,826.00 L556.03,825.99 L556.97,825.99 L557.90,825.99 L558.83,825.98 L559.77,825.98 L560.70,825.98 L561.63,825.97 L562.57,825.97 L563.50,825.97 L564.43,825.96 L565.37,825.96 L566.30,825.96 L567.23,825.95 L568.17,825.95 L569.10,825.94 L570.03,825.94 L570.97,825.94 L571.90,825.93 L572.83,825.93 L573.77,825.93 L574.70,825.92 L575.63,825.92 L576.57,825.91 L577.50,825.91 L578.43,825.91 L579.37,825.90 L580.30,825.90 L581.23,825.89 L582.17,825.89 L583.10,825.89 L584.03,825.88 L584.97,825.88 L585.90,825.87 L586.83,825.87 L587.77,825.86 L588.70,825.86 L589.63,825.86 L590.57,825.85 L591.50,825.85 L592.43,825.84 L593.37,825.84 L594.30,825.84 L595.23,825.83 L596.17,825.83 L597.10,825.82 L598.03,825.82 L598.97,825.81 L599.90,825.81 L600.83,825.81 L601.77,825.80 L602.70,825.80 L603.63,825.79 L604.57,825.79 L605.50,825.78 L606.43,825.78 L607.37,825.78 L608.30,825.77 L609.23,825.77 L610.17,825.76 L611.10,825.76 L612.03,825.75 L612.97,825.75 L613.90,825.75 L614.83,825.74 L615.77,825.74 L616.70,825.73 L617.63,825.73 L618.57,825.73 L619.50,825.72 L620.43,825.72 L621.37,825.71 L622.30,825.71 L623.23,825.71 L624.17,825.70 L625.10,825.70 L626.03,825.69 L626.97,825.69 L627.90,825.69 L628.83,825.68 L629.77,825.68 L630.70,825.67 L631.63,825.67 L632.57,825.67 L633.50,825.66" fill="none" stroke="#cccccc" stroke-width="4.0" stroke-linejoin="round" stroke-linecap="butt"/>
<path d="M73.50,884.50 L74.43,884.48 L75.37,884.42 L76.30,884.32 L77.23,884.17 L78.17,883.99 L79.10,883.77 L80.03,883.50 L80.97,883.20 L81.90,882.86 L82.83,882.48 L83.77,882.06 L84.70,881.61 L85.63,881.12 L86.57,880.59 L87.50,880.03 L88.43,879.44 L89.37,878.82 L90.30,878.17 L91.23,877.50 L92.17,876.80 L93.10,876.07 L94.03,875.33 L94.97,874.57 L95.90,873.80 L96.83,873.01 L97.77,872.21 L98.70,871.41 L99.63,870.60 L100.57,869.79 L101.50,868.98 L102.43,868.16 L103.37,867.36 L104.30,866.55 L105.23,865.76 L106.17,864.97 L107.10,864.20 L108.03,863.43 L108.97,862.68 L109.90,861.94 L110.83,861.21 L111.77,860.50 L112.70,859.80 L113.63,859.12 L114.57,858.46 L115.50,857.81 L116.43,857.18 L117.37,856.56 L118.30,855.96 L119.23,855.37 L120.17,854.80 L121.10,854.25 L122.03,853.71 L122.97,853.18 L123.90,852.67 L124.83,852.18 L125.77,851.69 L126.70,851.22 L127.63,850.76 L128.57,850.32 L129.50,849.88 L130.43,849.46 L131.37,849.05 L132.30,848.65 L133.23,848.26 L134.17,847.88 L135.10,847.51 L136.03,847.15 L136.97,846.80 L137.90,846.46 L138.83,846.12 L139.77,845.80 L140.70,845.48 L141.63,845.17 L142.57,844.87 L143.50,844.57 L144.43,844.28 L145.37,844.00 L146.30,843.72 L147.23,843.45 L148.17,843.18 L149.10,842.93 L150.03,842.67 L150.97,842.42 L151.90,842.18 L152.83,841.94 L153.77,841.71 L154.70,841.48 L155.63,841.26 L156.57,841.04 L157.50,840.83 L158.43,840.62 L159.37,840.41 L160.30,840.21 L161.23,840.01 L162.17,839.81 L163.10,839.62 L164.03,839.44 L164.97,839.25 L165.90,839.07 L166.83,838.90 L167.77,838.72 L168.70,838.55 L169.63,838.38 L170.57,838.22 L171.50,838.06 L172.43,837.90 L173.37,837.74 L174.30,837.59 L175.23,837.44 L176.17,837.29 L177.10,837.14 L178.03,837.00 L178.97,836.86 L179.90,836.72 L180.83,836.58 L181.77,836.45 L182.70,836.32 L183.63,836.19 L184.57,836.06 L185.50,835.94 L186.43,835.81 L187.37,835.69 L188.30,835.57 L189.23,835.46 L190.17,835.34 L191.10,835.23 L192.03,835.11 L192.97,835.00 L193.90,834.90 L194.83,834.79 L195.77,834.68 L196.70,834.58 L197.63,834.48 L198.57,834.38 L199.50,834.28 L200.43,834.18 L201.37,834.09 L202.30,833.99 L203.23,833.90 L204.17,833.81 L205.10,833.72 L206.03,833.63 L206.97,833.54 L207.90,833.45 L208.83,833.37 L209.77,833.29 L210.70,833.20 L211.63,833.12 L212.57,833.04 L213.50,832.96 L214.43,832.89 L215.37,832.81 L216.30,832.73 L217.23,832.66 L218.17,832.58 L219.10,832.51 L220.03,832.44 L220.97,832.37 L221.90,832.30 L222.83,832.23 L223.77,832.16 L224.70,832.10 L225.63,832.03 L226.57,831.97 L227.50,831.90 L228.43,831.84 L229.37,831.78 L230.30,831.72 L231.23,831.66 L232.17,831.60 L233.10,831.54 L234.03,831.48 L234.97,831.42 L235.90,831.37 L236.83,831.31 L237.77,831.25 L238.70,831.20 L239.63,831.15 L240.57,831.09 L241.50,831.04 L242.43,830.99 L243.37,830.94 L244.30,830.89 L245.23,830.84 L246.17,830.79 L247.10,830.74 L248.03,830.69 L248.97,830.65 L249.90,830.60 L250.83,830.55 L251.77,830.51 L252.70,830.46 L253.63,830.42 L254.57,830.38 L255.50,830.33 L256.43,830.29 L257.37,830.25 L258.30,830.21 L259.23,830.16 L260.17,830.12 L261.10,830.08 L262.03,830.04 L262.97,830.00 L263.90,829.97 L264.83,829.93 L265.77,829.89 L266.70,829.85 L267.63,829.82 L268.57,829.78 L269.50,829.74 L270.43,829.71 L271.37,829.67 L272.30,829.64 L273.23,829.60 L274.17,829.57 L275.10,829.54 L276.03,829.50 L276.97,829.47 L277.90,829.44 L278.83,829.41 L279.77,829.37 L280.70,829.34 L281.63,829.31 L282.57,829.28 L283.50,829.25 L284.43,829.22 L285.37,829.19 L286.30,829.16 L287.23,829.13 L288.17,829.10 L289.10,829.08 L290.03,829.05 L290.97,829.02 L291.90,828.99 L292.83,828.97 L293.77,828.94 L294.70,828.91 L295.63,828.89 L296.57,828.86 L297.50,828.83 L298.43,828.81 L299.37,828.78 L300.30,828.76 L301.23,828.73 L302.17,828.71 L303.10,828.69 L304.03,828.66 L304.97,828.64 L305.90,828.61 L306.83,828.59 L307.77,828.57 L308.70,828.55 L309.63,828.52 L310.57,828.50 L311.50,828.48 L312.43,828.46 L313.37,828.44 L314.30,828.42 L315.23,828.39 L316.17,828.37 L317.10,828.35 L318.03,828.33 L318.97,828.31 L319.90,828.29 L320.83,828.27 L321.77,828.25 L322.70,828.23 L323.63,828.21 L324.57,828.20 L325.50,828.18 L326.43,828.16 L327.37,828.14 L328.30,828.12 L329.23,828.10 L330.17,828.08 L331.10,828.07 L332.03,828.05 L332.97,828.03 L333.90,828.01 L334.83,828.00 L335.77,827.98 L336.70,827.96 L337.63,827.95 L338.57,827.93 L339.50,827.91 L340.43,827.90 L341.37,827.88 L342.30,827.87 L343.23,827.85 L344.17,827.83 L345.10,827.82 L346.03,827.80 L346.97,827.79 L347.90,827.77 L348.83,827.76 L349.77,827.74 L350.70,827.73 L351.63,827.72 L352.57,827.70 L353.50,827.69 L354.43,827.67 L355.37,827.66 L356.30,827.65 L357.23,827.63 L358.17,827.62 L359.10,827.60 L360.03,827.59 L360.97,827.58 L361.90,827.56 L362.83,827.55 L363.77,827.54 L364.70,827.53 L365.63,827.51 L366.57,827.50 L367.50,827.49 L368.43,827.48 L369.37,827.46 L370.30,827.45 L371.23,827.44 L372.17,827.43 L373.10,827.42 L374.03,827.40 L374.97,827.39 L375.90,827.38 L376.83,827.37 L377.77,827.36 L378.70,827.35 L379.63,827.34 L380.57,827.33 L381.50,827.31 L382.43,827.30 L383.37,827.29 L384.30,827.28 L385.23,827.27 L386.17,827.26 L387.10,827.25 L388.03,827.24 L388.97,827.23 L389.90,827.22 L390.83,827.21 L391.77,827.20 L392.70,827.19 L393.63,827.18 L394.57,827.17 L395.50,827.16 L396.43,827.15 L397.37,827.14 L398.30,827.13 L399.23,827.12 L400.17,827.11 L401.10,827.10 L402.03,827.09 L402.97,827.09 L403.90,827.08 L404.83,827.07 L405.77,827.06 L406.70,827.05 L407.63,827.04 L408.57,827.03 L409.50,827.02 L410.43,827.02 L411.37,827.01 L412.30,827.00 L413.23,826.99 L414.17,826.98 L415.10,826.97 L416.03,826.97 L416.97,826.96 L417.90,826.95 L418.83,826.94 L419.77,826.93 L420.70,826.93 L421.63,826.92 L422.57,826.91 L423.50,826.90 L424.43,826.90 L425.37,826.89 L426.30,826.88 L427.23,826.87 L428.17,826.87 L429.10,826.86 L430.03,826.85 L430.97,826.84 L431.90,826.84 L432.83,826.83 L433.77,826.82 L434.70,826.82 L435.63,826.81 L436.57,826.80 L437.50,826.79 L438.43,826.79 L439.37,826.78 L440.30,826.77 L441.23,826.77 L442.17,826.76 L443.10,826.75 L444.03,826.75 L444.97,826.74 L445.90,826.74 L446.83,826.73 L447.77,826.72 L448.70,826.72 L449.63,826.71 L450.57,826.70 L451.50,826.70 L452.43,826.69 L453.37,826.68 L454.30,826.67 L455.23,826.67 L456.17,826.66 L457.10,826.65 L458.03,826.64 L458.97,826.64 L459.90,826.63 L460.83,826.62 L461.77,826.61 L462.70,826.60 L463.63,826.59 L464.57,826.59 L465.50,826.58 L466.43,826.57 L467.37,826.56 L468.30,826.55 L469.23,826.54 L470.17,826.53 L471.10,826.52 L472.03,826.52 L472.97,826.51 L473.90,826.50 L474.83,826.49 L475.77,826.48 L476.70,826.47 L477.63,826.46 L478.57,826.45 L479.50,826.44 L480.43,826.43 L481.37,826.42 L482.30,826.41 L483.23,826.40 L484.17,826.39 L485.10,826.38 L486.03,826.37 L486.97,826.36 L487.90,826.36 L488.83,826.35 L489.77,826.34 L490.70,826.33 L491.63,826.32 L492.57,826.31 L493.50,826.30 L494.43,826.29 L495.37,826.28 L496.30,826.27 L497.23,826.26 L498.17,826.25 L499.10,826.24 L500.03,826.23 L500.97,826.22 L501.90,826.21 L502.83,826.20 L503.77,826.19 L504.70,826.18 L505.63,826.17 L506.57,826.16 L507.50,826.15 L508.43,826.14 L509.37,826.13 L510.30,826.13 L511.23,826.12 L512.17,826.11 L513.10,826.10 L514.03,826.09 L514.97,826.08 L515.90,826.07 L516.83,826.06 L517.77,826.05 L518.70,826.05 L519.63,826.04 L520.57,826.03 L521.50,826.02 L522.43,826.01 L523.37,826.00 L524.30,826.00 L525.23,825.99 L526.17,825.98 L527.10,825.97 L528.03,825.96 L528.97,825.96 L529.90,825.95 L530.83,825.94 L531.77,825.93 L532.70,825.92 L533.63,825.92 L534.57,825.91 L535.50,825.90 L536.43,825.89 L537.37,825.88 L538.30,825.87 L539.23,825.87 L540.17,825.86 L541.10,825.85 L542.03,825.84 L542.97,825.83 L543.90,825.83 L544.83,825.82 L545.77,825.81 L546.70,825.80 L547.63,825.79 L548.57,825.79 L549.50,825.78 L550.43,825.77 L551.37,825.76 L552.30,825.75 L553.23,825.75 L554.17,825.74 L555.10,825.73 L556.03,825.72 L556.97,825.71 L557.90,825.71 L558.83,825.70 L559.77,825.69 L560.70,825.68 L561.63,825.67 L562.57,825.67 L563.50,825.66 L564.43,825.65 L565.37,825.64 L566.30,825.63 L567.23,825.63 L568.17,825.62 L569.10,825.61 L570.03,825.60 L570.97,825.59 L571.90,825.59 L572.83,825.58 L573.77,825.57 L574.70,825.56 L575.63,825.56 L576.57,825.55 L577.50,825.54 L578.43,825.53 L579.37,825.52 L580.30,825.52 L581.23,825.51 L582.17,825.50 L583.10,825.49 L584.03,825.48 L584.97,825.48 L585.90,825.47 L586.83,825.46 L587.77,825.45 L588.70,825.44 L589.63,825.44 L590.57,825.43 L591.50,825.42 L592.43,825.41 L593.37,825.40 L594.30,825.40 L595.23,825.39 L596.17,825.38 L597.10,825.37 L598.03,825.37 L598.97,825.36 L599.90,825.35 L600.83,825.34 L601.77,825.33 L602.70,825.33 L603.63,825.32 L604.57,825.31 L605.50,825.30 L606.43,825.29 L607.37,825.29 L608.30,825.28 L609.23,825.27 L610.17,825.26 L611.10,825.25 L612.03,825.25 L612.97,825.24 L613.90,825.23 L614.83,825.22 L615.77,825.21 L616.70,825.21 L617.63,825.20 L618.57,825.19 L619.50,825.18 L620.43,825.17 L621.37,825.17 L622.30,825.16 L623.23,825.15 L624.17,825.14 L625.10,825.14 L626.03,825.13 L626.97,825.12 L627.90,825.11 L628.83,825.10 L629.77,825.10 L630.70,825.09 L631.63,825.08 L632.57,825.07 L633.50,825.06" fill="none" stroke="#000" stroke-width="4.0" stroke-linejoin="round" stroke-linecap="butt" stroke-dasharray="15.2 15"/>
<path d="M73.50,884.50 L74.43,884.50 L75.37,884.50 L76.30,884.50 L77.23,884.50 L78.17,884.50 L79.10,884.50 L80.03,884.50 L80.97,884.49 L81.90,884.49 L82.83,884.48 L83.77,884.47 L84.70,884.45 L85.63,884.43 L86.57,884.41 L87.50,884.38 L88.43,884.34 L89.37,884.30 L90.30,884.25 L91.23,884.19 L92.17,884.13 L93.10,884.05 L94.03,883.97 L94.97,883.88 L95.90,883.78 L96.83,883.67 L97.77,883.55 L98.70,883.42 L99.63,883.28 L100.57,883.12 L101.50,882.96 L102.43,882.79 L103.37,882.60 L104.30,882.41 L105.23,882.21 L106.17,881.99 L107.10,881.77 L108.03,881.53 L108.97,881.29 L109.90,881.03 L110.83,880.77 L111.77,880.50 L112.70,880.22 L113.63,879.93 L114.57,879.63 L115.50,879.33 L116.43,879.02 L117.37,878.70 L118.30,878.37 L119.23,878.04 L120.17,877.70 L121.10,877.35 L122.03,877.00 L122.97,876.65 L123.90,876.29 L124.83,875.92 L125.77,875.55 L126.70,875.18 L127.63,874.80 L128.57,874.42 L129.50,874.04 L130.43,873.65 L131.37,873.27 L132.30,872.88 L133.23,872.48 L134.17,872.09 L135.10,871.69 L136.03,871.30 L136.97,870.90 L137.90,870.50 L138.83,870.10 L139.77,869.70 L140.70,869.30 L141.63,868.90 L142.57,868.50 L143.50,868.11 L144.43,867.71 L145.37,867.31 L146.30,866.91 L147.23,866.52 L148.17,866.12 L149.10,865.73 L150.03,865.34 L150.97,864.95 L151.90,864.56 L152.83,864.18 L153.77,863.79 L154.70,863.41 L155.63,863.03 L156.57,862.65 L157.50,862.28 L158.43,861.90 L159.37,861.53 L160.30,861.16 L161.23,860.80 L162.17,860.43 L163.10,860.07 L164.03,859.71 L164.97,859.36 L165.90,859.00 L166.83,858.65 L167.77,858.31 L168.70,857.96 L169.63,857.62 L170.57,857.28 L171.50,856.95 L172.43,856.61 L173.37,856.29 L174.30,855.96 L175.23,855.63 L176.17,855.31 L177.10,855.00 L178.03,854.68 L178.97,854.37 L179.90,854.06 L180.83,853.76 L181.77,853.45 L182.70,853.15 L183.63,852.86 L184.57,852.56 L185.50,852.27 L186.43,851.99 L187.37,851.70 L188.30,851.42 L189.23,851.14 L190.17,850.87 L191.10,850.59 L192.03,850.32 L192.97,850.06 L193.90,849.79 L194.83,849.53 L195.77,849.27 L196.70,849.02 L197.63,848.76 L198.57,848.51 L199.50,848.26 L200.43,848.02 L201.37,847.78 L202.30,847.54 L203.23,847.30 L204.17,847.07 L205.10,846.84 L206.03,846.61 L206.97,846.38 L207.90,846.16 L208.83,845.94 L209.77,845.72 L210.70,845.50 L211.63,845.29 L212.57,845.08 L213.50,844.87 L214.43,844.66 L215.37,844.46 L216.30,844.25 L217.23,844.05 L218.17,843.86 L219.10,843.66 L220.03,843.47 L220.97,843.28 L221.90,843.09 L222.83,842.90 L223.77,842.72 L224.70,842.54 L225.63,842.36 L226.57,842.18 L227.50,842.00 L228.43,841.83 L229.37,841.66 L230.30,841.49 L231.23,841.32 L232.17,841.15 L233.10,840.99 L234.03,840.82 L234.97,840.66 L235.90,840.51 L236.83,840.35 L237.77,840.19 L238.70,840.04 L239.63,839.89 L240.57,839.74 L241.50,839.59 L242.43,839.44 L243.37,839.30 L244.30,839.15 L245.23,839.01 L246.17,838.87 L247.10,838.73 L248.03,838.60 L248.97,838.46 L249.90,838.33 L250.83,838.20 L251.77,838.07 L252.70,837.94 L253.63,837.81 L254.57,837.68 L255.50,837.56 L256.43,837.43 L257.37,837.31 L258.30,837.19 L259.23,837.07 L260.17,836.95 L261.10,836.84 L262.03,836.72 L262.97,836.61 L263.90,836.49 L264.83,836.38 L265.77,836.27 L266.70,836.16 L267.63,836.05 L268.57,835.95 L269.50,835.84 L270.43,835.74 L271.37,835.63 L272.30,835.53 L273.23,835.43 L274.17,835.33 L275.10,835.23 L276.03,835.13 L276.97,835.03 L277.90,834.94 L278.83,834.84 L279.77,834.75 L280.70,834.66 L281.63,834.57 L282.57,834.47 L283.50,834.39 L284.43,834.30 L285.37,834.21 L286.30,834.12 L287.23,834.04 L288.17,833.95 L289.10,833.87 L290.03,833.78 L290.97,833.70 L291.90,833.62 L292.83,833.54 L293.77,833.46 L294.70,833.38 L295.63,833.30 L296.57,833.23 L297.50,833.15 L298.43,833.07 L299.37,833.00 L300.30,832.92 L301.23,832.85 L302.17,832.78 L303.10,832.71 L304.03,832.64 L304.97,832.57 L305.90,832.50 L306.83,832.43 L307.77,832.36 L308.70,832.29 L309.63,832.23 L310.57,832.16 L311.50,832.09 L312.43,832.03 L313.37,831.97 L314.30,831.90 L315.23,831.84 L316.17,831.78 L317.10,831.72 L318.03,831.66 L318.97,831.60 L319.90,831.54 L320.83,831.48 L321.77,831.42 L322.70,831.36 L323.63,831.31 L324.57,831.25 L325.50,831.19 L326.43,831.14 L327.37,831.08 L328.30,831.03 L329.23,830.98 L330.17,830.92 L331.10,830.87 L332.03,830.82 L332.97,830.77 L333.90,830.72 L334.83,830.67 L335.77,830.62 L336.70,830.57 L337.63,830.52 L338.57,830.47 L339.50,830.42 L340.43,830.37 L341.37,830.33 L342.30,830.28 L343.23,830.23 L344.17,830.19 L345.10,830.14 L346.03,830.10 L346.97,830.05 L347.90,830.01 L348.83,829.97 L349.77,829.92 L350.70,829.88 L351.63,829.84 L352.57,829.80 L353.50,829.76 L354.43,829.72 L355.37,829.68 L356.30,829.64 L357.23,829.60 L358.17,829.56 L359.10,829.52 L360.03,829.48 L360.97,829.44 L361.90,829.40 L362.83,829.37 L363.77,829.33 L364.70,829.29 L365.63,829.26 L366.57,829.22 L367.50,829.19 L368.43,829.15 L369.37,829.12 L370.30,829.08 L371.23,829.05 L372.17,829.01 L373.10,828.98 L374.03,828.95 L374.97,828.91 L375.90,828.88 L376.83,828.85 L377.77,828.82 L378.70,828.79 L379.63,828.75 L380.57,828.72 L381.50,828.69 L382.43,828.66 L383.37,828.63 L384.30,828.60 L385.23,828.57 L386.17,828.54 L387.10,828.52 L388.03,828.49 L388.97,828.46 L389.90,828.43 L390.83,828.40 L391.77,828.38 L392.70,828.35 L393.63,828.32 L394.57,828.29 L395.50,828.27 L396.43,828.24 L397.37,828.22 L398.30,828.19 L399.23,828.17 L400.17,828.14 L401.10,828.12 L402.03,828.09 L402.97,828.07 L403.90,828.04 L404.83,828.02 L405.77,827.99 L406.70,827.97 L407.63,827.95 L408.57,827.93 L409.50,827.90 L410.43,827.88 L411.37,827.86 L412.30,827.84 L413.23,827.81 L414.17,827.79 L415.10,827.77 L416.03,827.75 L416.97,827.73 L417.90,827.71 L418.83,827.69 L419.77,827.67 L420.70,827.65 L421.63,827.63 L422.57,827.61 L423.50,827.59 L424.43,827.57 L425.37,827.55 L426.30,827.53 L427.23,827.51 L428.17,827.49 L429.10,827.47 L430.03,827.46 L430.97,827.44 L431.90,827.42 L432.83,827.40 L433.77,827.39 L434.70,827.37 L435.63,827.35 L436.57,827.33 L437.50,827.32 L438.43,827.30 L439.37,827.28 L440.30,827.27 L441.23,827.25 L442.17,827.24 L443.10,827.22 L444.03,827.20 L444.97,827.19 L445.90,827.17 L446.83,827.16 L447.77,827.14 L448.70,827.13 L449.63,827.11 L450.57,827.10 L451.50,827.08 L452.43,827.07 L453.37,827.05 L454.30,827.04 L455.23,827.02 L456.17,827.01 L457.10,826.99 L458.03,826.98 L458.97,826.96 L459.90,826.95 L460.83,826.93 L461.77,826.92 L462.70,826.90 L463.63,826.89 L464.57,826.87 L465.50,826.85 L466.43,826.84 L467.37,826.82 L468.30,826.81 L469.23,826.79 L470.17,826.78 L471.10,826.76 L472.03,826.75 L472.97,826.73 L473.90,826.72 L474.83,826.70 L475.77,826.69 L476.70,826.67 L477.63,826.66 L478.57,826.64 L479.50,826.63 L480.43,826.62 L481.37,826.60 L482.30,826.59 L483.23,826.57 L484.17,826.56 L485.10,826.54 L486.03,826.53 L486.97,826.51 L487.90,826.50 L488.83,826.49 L489.77,826.47 L490.70,826.46 L491.63,826.44 L492.57,826.43 L493.50,826.42 L494.43,826.40 L495.37,826.39 L496.30,826.37 L497.23,826.36 L498.17,826.35 L499.10,826.33 L500.03,826.32 L500.97,826.31 L501.90,826.30 L502.83,826.28 L503.77,826.27 L504.70,826.26 L505.63,826.24 L506.57,826.23 L507.50,826.22 L508.43,826.21 L509.37,826.20 L510.30,826.18 L511.23,826.17 L512.17,826.16 L513.10,826.15 L514.03,826.14 L514.97,826.13 L515.90,826.11 L516.83,826.10 L517.77,826.09 L518.70,826.08 L519.63,826.07 L520.57,826.06 L521.50,826.05 L522.43,826.04 L523.37,826.03 L524.30,826.02 L525.23,826.01 L526.17,826.00 L527.10,825.99 L528.03,825.98 L528.97,825.97 L529.90,825.96 L530.83,825.95 L531.77,825.94 L532.70,825.93 L533.63,825.92 L534.57,825.91 L535.50,825.90 L536.43,825.89 L537.37,825.89 L538.30,825.88 L539.23,825.87 L540.17,825.86 L541.10,825.85 L542.03,825.84 L542.97,825.83 L543.90,825.82 L544.83,825.81 L545.77,825.81 L546.70,825.80 L547.63,825.79 L548.57,825.78 L549.50,825.77 L550.43,825.76 L551.37,825.76 L552.30,825.75 L553.23,825.74 L554.17,825.73 L555.10,825.72 L556.03,825.71 L556.97,825.71 L557.90,825.70 L558.83,825.69 L559.77,825.68 L560.70,825.67 L561.63,825.67 L562.57,825.66 L563.50,825.65 L564.43,825.64 L565.37,825.64 L566.30,825.63 L567.23,825.62 L568.17,825.61 L569.10,825.61 L570.03,825.60 L570.97,825.59 L571.90,825.59 L572.83,825.58 L573.77,825.57 L574.70,825.56 L575.63,825.56 L576.57,825.55 L577.50,825.54 L578.43,825.54 L579.37,825.53 L580.30,825.52 L581.23,825.51 L582.17,825.51 L583.10,825.50 L584.03,825.49 L584.97,825.49 L585.90,825.48 L586.83,825.47 L587.77,825.47 L588.70,825.46 L589.63,825.46 L590.57,825.45 L591.50,825.44 L592.43,825.44 L593.37,825.43 L594.30,825.42 L595.23,825.42 L596.17,825.41 L597.10,825.40 L598.03,825.40 L598.97,825.39 L599.90,825.39 L600.83,825.38 L601.77,825.37 L602.70,825.37 L603.63,825.36 L604.57,825.36 L605.50,825.35 L606.43,825.34 L607.37,825.34 L608.30,825.33 L609.23,825.33 L610.17,825.32 L611.10,825.32 L612.03,825.31 L612.97,825.30 L613.90,825.30 L614.83,825.29 L615.77,825.29 L616.70,825.28 L617.63,825.28 L618.57,825.27 L619.50,825.27 L620.43,825.26 L621.37,825.25 L622.30,825.25 L623.23,825.24 L624.17,825.24 L625.10,825.23 L626.03,825.23 L626.97,825.22 L627.90,825.22 L628.83,825.21 L629.77,825.21 L630.70,825.20 L631.63,825.20 L632.57,825.19 L633.50,825.19" fill="none" stroke="#000" stroke-width="4.0" stroke-linejoin="round" stroke-linecap="butt" stroke-dasharray="4 3.56"/>
<rect x="540.5" y="582.5" width="80.0" height="195.0" fill="#fff" stroke="#444444" stroke-width="1"/>
<path d="M544.5,603.54 H581.7" fill="none" stroke="#000" stroke-width="4.0"/>
<text x="584.60" y="607.94" font-size="23" text-anchor="start" font-weight="normal" font-style="italic" textLength="12.00" lengthAdjust="spacingAndGlyphs">ρ</text>
<text x="596.80" y="617.54" font-size="17" text-anchor="start" font-weight="normal" font-style="normal" textLength="19.60" lengthAdjust="spacingAndGlyphs" stroke-width="0.15">11</text>
<path d="M544.5,641.77 H581.7" fill="none" stroke="#000" stroke-width="4.0" stroke-dasharray="15 4.1 7 4.1"/>
<text x="584.60" y="646.17" font-size="23" text-anchor="start" font-weight="normal" font-style="italic" textLength="12.00" lengthAdjust="spacingAndGlyphs">ρ</text>
<text x="596.80" y="655.77" font-size="17" text-anchor="start" font-weight="normal" font-style="normal" textLength="19.60" lengthAdjust="spacingAndGlyphs" stroke-width="0.15">22</text>
<path d="M544.5,680.00 H581.7" fill="none" stroke="#cccccc" stroke-width="4.0"/>
<text x="584.60" y="684.40" font-size="23" text-anchor="start" font-weight="normal" font-style="italic" textLength="12.00" lengthAdjust="spacingAndGlyphs">ρ</text>
<text x="596.80" y="694.00" font-size="17" text-anchor="start" font-weight="normal" font-style="normal" textLength="19.60" lengthAdjust="spacingAndGlyphs" stroke-width="0.15">33</text>
<path d="M544.5,718.23 H581.7" fill="none" stroke="#000" stroke-width="4.0" stroke-dasharray="15.2 15"/>
<text x="584.60" y="722.63" font-size="23" text-anchor="start" font-weight="normal" font-style="italic" textLength="12.00" lengthAdjust="spacingAndGlyphs">ρ</text>
<text x="596.80" y="732.23" font-size="17" text-anchor="start" font-weight="normal" font-style="normal" textLength="19.60" lengthAdjust="spacingAndGlyphs" stroke-width="0.15">44</text>
<path d="M544.5,756.46 H581.7" fill="none" stroke="#000" stroke-width="4.0" stroke-dasharray="4 3.56"/>
<text x="584.60" y="760.86" font-size="23" text-anchor="start" font-weight="normal" font-style="italic" textLength="12.00" lengthAdjust="spacingAndGlyphs">ρ</text>
<text x="596.80" y="770.46" font-size="17" text-anchor="start" font-weight="normal" font-style="normal" textLength="19.60" lengthAdjust="spacingAndGlyphs" stroke-width="0.15">55</text>
</svg>
</body></html>
